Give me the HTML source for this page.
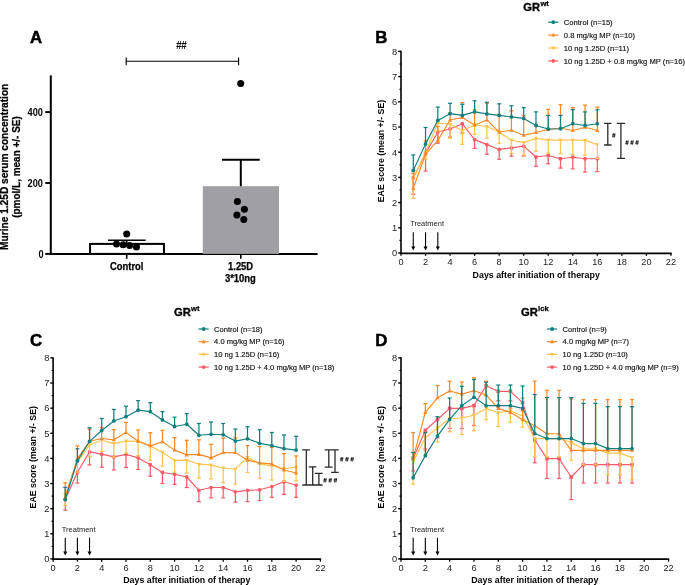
<!DOCTYPE html>
<html><head><meta charset="utf-8"><style>
html,body{margin:0;padding:0;background:#fff;width:685px;height:585px;overflow:hidden}
svg{display:block;will-change:transform}
text{font-family:"Liberation Sans", sans-serif}
</style></head><body>
<svg width="685" height="585" viewBox="0 0 685 585" font-family="'Liberation Sans', sans-serif">
<rect width="685" height="585" fill="#fff"/>
<text x="30.10" y="43.30" font-size="16.8" font-weight="bold" text-anchor="start" fill="#000" stroke="#000" stroke-width="0.5">A</text>
<line x1="50.80" y1="75.40" x2="50.80" y2="254.90" stroke="#000" stroke-width="2" />
<line x1="45.30" y1="253.90" x2="50.80" y2="253.90" stroke="#000" stroke-width="2" />
<text x="43.50" y="257.50" font-size="10.1" font-weight="bold" text-anchor="end" fill="#000" textLength="5.1" lengthAdjust="spacingAndGlyphs">0</text>
<line x1="45.30" y1="183.00" x2="50.80" y2="183.00" stroke="#000" stroke-width="2" />
<text x="42.90" y="186.60" font-size="10.1" font-weight="bold" text-anchor="end" fill="#000" textLength="15.3" lengthAdjust="spacingAndGlyphs">200</text>
<line x1="45.30" y1="112.10" x2="50.80" y2="112.10" stroke="#000" stroke-width="2" />
<text x="42.90" y="115.70" font-size="10.1" font-weight="bold" text-anchor="end" fill="#000" textLength="15.3" lengthAdjust="spacingAndGlyphs">400</text>
<line x1="49.80" y1="253.90" x2="317.60" y2="253.90" stroke="#000" stroke-width="2" />
<line x1="126.70" y1="253.90" x2="126.70" y2="258.80" stroke="#000" stroke-width="1.6" />
<line x1="240.80" y1="253.90" x2="240.80" y2="258.80" stroke="#000" stroke-width="1.6" />
<rect x="202.8" y="186.2" width="76.2" height="67.70" fill="#a09fa4"/>
<line x1="240.80" y1="186.20" x2="240.80" y2="159.70" stroke="#000" stroke-width="2" />
<line x1="222.00" y1="159.70" x2="259.70" y2="159.70" stroke="#000" stroke-width="2" />
<rect x="90.05" y="243.9" width="73.9" height="10.00" fill="#fff" stroke="#000" stroke-width="2"/>
<line x1="126.70" y1="243.00" x2="126.70" y2="240.20" stroke="#000" stroke-width="1.6" />
<line x1="108.00" y1="240.20" x2="145.70" y2="240.20" stroke="#000" stroke-width="1.6" />
<circle cx="126.7" cy="233.9" r="3.5" fill="#000"/>
<circle cx="116.5" cy="244.1" r="3.5" fill="#000"/>
<circle cx="123.1" cy="244.8" r="3.5" fill="#000"/>
<circle cx="129.6" cy="245.5" r="3.5" fill="#000"/>
<circle cx="136.5" cy="247.0" r="3.5" fill="#000"/>
<circle cx="240.7" cy="83.5" r="3.5" fill="#000"/>
<circle cx="237.4" cy="201.5" r="3.5" fill="#000"/>
<circle cx="244.4" cy="209.2" r="3.5" fill="#000"/>
<circle cx="236.9" cy="215.1" r="3.5" fill="#000"/>
<circle cx="243.8" cy="219.5" r="3.5" fill="#000"/>
<line x1="126.20" y1="61.30" x2="238.60" y2="61.30" stroke="#000" stroke-width="1.1" />
<line x1="126.20" y1="57.50" x2="126.20" y2="65.20" stroke="#000" stroke-width="1.1" />
<line x1="238.60" y1="57.50" x2="238.60" y2="65.20" stroke="#000" stroke-width="1.1" />
<text x="181.00" y="48.60" font-size="10.0" font-weight="bold" text-anchor="middle" fill="#000" letter-spacing="-0.6" font-style="italic">##</text>
<text x="126.70" y="270.20" font-size="10.2" font-weight="bold" text-anchor="middle" fill="#000" stroke="#000" stroke-width="0.25" lengthAdjust="spacingAndGlyphs" textLength="33.6">Control</text>
<text x="240.60" y="270.10" font-size="10.2" font-weight="bold" text-anchor="middle" fill="#000" stroke="#000" stroke-width="0.25" lengthAdjust="spacingAndGlyphs" textLength="25.0">1.25D</text>
<text x="240.40" y="281.70" font-size="10.2" font-weight="bold" text-anchor="middle" fill="#000" stroke="#000" stroke-width="0.25" lengthAdjust="spacingAndGlyphs" textLength="30.8">3*10ng</text>
<text transform="translate(8.3,166.8) rotate(-90)" font-size="10.6" font-weight="bold" text-anchor="middle" stroke="#000" stroke-width="0.25" textLength="166.2" lengthAdjust="spacingAndGlyphs">Murine 1.25D serum concentration</text>
<text transform="translate(20.1,167.0) rotate(-90)" font-size="10.5" font-weight="bold" text-anchor="middle" stroke="#000" stroke-width="0.25" textLength="101.6" lengthAdjust="spacingAndGlyphs">(pmol/L, mean +/- SE)</text>
<text x="375.30" y="43.20" font-size="16.8" font-weight="bold" text-anchor="start" fill="#000" stroke="#000" stroke-width="0.5">B</text>
<text x="523.30" y="11.00" font-size="11.2" font-weight="bold" stroke="#000" stroke-width="0.35">GR<tspan font-size="7.6" dy="-4.7" dx="0.3" stroke-width="0.25">wt</tspan></text>
<line x1="548.20" y1="22.20" x2="558.40" y2="22.20" stroke="#0f7f7e" stroke-width="1.2" />
<circle cx="553.30" cy="22.20" r="1.9" fill="#0f7f7e"/>
<text x="563.80" y="24.90" font-size="7.62" font-weight="normal" text-anchor="start" fill="#111" stroke="#111" stroke-width="0.15">Control (n=15)</text>
<line x1="548.20" y1="35.10" x2="558.40" y2="35.10" stroke="#f98a26" stroke-width="1.2" />
<path d="M553.30,32.90 L555.40,36.60 L551.20,36.60 Z" fill="#f98a26"/>
<text x="563.80" y="37.80" font-size="7.62" font-weight="normal" text-anchor="start" fill="#111" stroke="#111" stroke-width="0.15">0.8 mg/kg MP (n=10)</text>
<line x1="548.20" y1="48.00" x2="558.40" y2="48.00" stroke="#fec450" stroke-width="1.2" />
<path d="M553.30,50.20 L555.40,46.50 L551.20,46.50 Z" fill="#fec450"/>
<text x="563.80" y="50.70" font-size="7.62" font-weight="normal" text-anchor="start" fill="#111" stroke="#111" stroke-width="0.15">10 ng 1.25D (n=11)</text>
<line x1="548.20" y1="60.90" x2="558.40" y2="60.90" stroke="#f75d68" stroke-width="1.2" />
<circle cx="553.30" cy="60.90" r="1.9" fill="#f75d68"/>
<text x="563.80" y="63.60" font-size="7.62" font-weight="normal" text-anchor="start" fill="#111" stroke="#111" stroke-width="0.15">10 ng 1.25D + 0.8 mg/kg MP (n=16)</text>
<line x1="401.00" y1="50.80" x2="401.00" y2="254.00" stroke="#000" stroke-width="1.6" />
<line x1="400.00" y1="253.30" x2="671.64" y2="253.30" stroke="#000" stroke-width="1.7" />
<line x1="398.20" y1="253.00" x2="401.00" y2="253.00" stroke="#000" stroke-width="1.4" />
<text x="397.20" y="256.30" font-size="9.3" font-weight="normal" text-anchor="end" fill="#222" >0</text>
<line x1="399.40" y1="240.40" x2="401.00" y2="240.40" stroke="#000" stroke-width="1.1" />
<line x1="398.20" y1="227.80" x2="401.00" y2="227.80" stroke="#000" stroke-width="1.4" />
<text x="397.20" y="231.10" font-size="9.3" font-weight="normal" text-anchor="end" fill="#222" >1</text>
<line x1="399.40" y1="215.20" x2="401.00" y2="215.20" stroke="#000" stroke-width="1.1" />
<line x1="398.20" y1="202.60" x2="401.00" y2="202.60" stroke="#000" stroke-width="1.4" />
<text x="397.20" y="205.90" font-size="9.3" font-weight="normal" text-anchor="end" fill="#222" >2</text>
<line x1="399.40" y1="190.00" x2="401.00" y2="190.00" stroke="#000" stroke-width="1.1" />
<line x1="398.20" y1="177.40" x2="401.00" y2="177.40" stroke="#000" stroke-width="1.4" />
<text x="397.20" y="180.70" font-size="9.3" font-weight="normal" text-anchor="end" fill="#222" >3</text>
<line x1="399.40" y1="164.80" x2="401.00" y2="164.80" stroke="#000" stroke-width="1.1" />
<line x1="398.20" y1="152.20" x2="401.00" y2="152.20" stroke="#000" stroke-width="1.4" />
<text x="397.20" y="155.50" font-size="9.3" font-weight="normal" text-anchor="end" fill="#222" >4</text>
<line x1="399.40" y1="139.60" x2="401.00" y2="139.60" stroke="#000" stroke-width="1.1" />
<line x1="398.20" y1="127.00" x2="401.00" y2="127.00" stroke="#000" stroke-width="1.4" />
<text x="397.20" y="130.30" font-size="9.3" font-weight="normal" text-anchor="end" fill="#222" >5</text>
<line x1="399.40" y1="114.40" x2="401.00" y2="114.40" stroke="#000" stroke-width="1.1" />
<line x1="398.20" y1="101.80" x2="401.00" y2="101.80" stroke="#000" stroke-width="1.4" />
<text x="397.20" y="105.10" font-size="9.3" font-weight="normal" text-anchor="end" fill="#222" >6</text>
<line x1="399.40" y1="89.20" x2="401.00" y2="89.20" stroke="#000" stroke-width="1.1" />
<line x1="398.20" y1="76.60" x2="401.00" y2="76.60" stroke="#000" stroke-width="1.4" />
<text x="397.20" y="79.90" font-size="9.3" font-weight="normal" text-anchor="end" fill="#222" >7</text>
<line x1="399.40" y1="64.00" x2="401.00" y2="64.00" stroke="#000" stroke-width="1.1" />
<line x1="398.20" y1="51.40" x2="401.00" y2="51.40" stroke="#000" stroke-width="1.4" />
<text x="397.20" y="54.70" font-size="9.3" font-weight="normal" text-anchor="end" fill="#222" >8</text>
<line x1="401.00" y1="253.00" x2="401.00" y2="255.80" stroke="#000" stroke-width="1.3" />
<text x="401.00" y="265.30" font-size="9.2" font-weight="normal" text-anchor="middle" fill="#222" >0</text>
<line x1="425.54" y1="253.00" x2="425.54" y2="255.80" stroke="#000" stroke-width="1.3" />
<text x="425.54" y="265.30" font-size="9.2" font-weight="normal" text-anchor="middle" fill="#222" >2</text>
<line x1="450.08" y1="253.00" x2="450.08" y2="255.80" stroke="#000" stroke-width="1.3" />
<text x="450.08" y="265.30" font-size="9.2" font-weight="normal" text-anchor="middle" fill="#222" >4</text>
<line x1="474.62" y1="253.00" x2="474.62" y2="255.80" stroke="#000" stroke-width="1.3" />
<text x="474.62" y="265.30" font-size="9.2" font-weight="normal" text-anchor="middle" fill="#222" >6</text>
<line x1="499.16" y1="253.00" x2="499.16" y2="255.80" stroke="#000" stroke-width="1.3" />
<text x="499.16" y="265.30" font-size="9.2" font-weight="normal" text-anchor="middle" fill="#222" >8</text>
<line x1="523.70" y1="253.00" x2="523.70" y2="255.80" stroke="#000" stroke-width="1.3" />
<text x="523.70" y="265.30" font-size="9.2" font-weight="normal" text-anchor="middle" fill="#222" >10</text>
<line x1="548.24" y1="253.00" x2="548.24" y2="255.80" stroke="#000" stroke-width="1.3" />
<text x="548.24" y="265.30" font-size="9.2" font-weight="normal" text-anchor="middle" fill="#222" >12</text>
<line x1="572.78" y1="253.00" x2="572.78" y2="255.80" stroke="#000" stroke-width="1.3" />
<text x="572.78" y="265.30" font-size="9.2" font-weight="normal" text-anchor="middle" fill="#222" >14</text>
<line x1="597.32" y1="253.00" x2="597.32" y2="255.80" stroke="#000" stroke-width="1.3" />
<text x="597.32" y="265.30" font-size="9.2" font-weight="normal" text-anchor="middle" fill="#222" >16</text>
<line x1="621.86" y1="253.00" x2="621.86" y2="255.80" stroke="#000" stroke-width="1.3" />
<text x="621.86" y="265.30" font-size="9.2" font-weight="normal" text-anchor="middle" fill="#222" >18</text>
<line x1="646.40" y1="253.00" x2="646.40" y2="255.80" stroke="#000" stroke-width="1.3" />
<text x="646.40" y="265.30" font-size="9.2" font-weight="normal" text-anchor="middle" fill="#222" >20</text>
<line x1="670.94" y1="253.00" x2="670.94" y2="255.80" stroke="#000" stroke-width="1.3" />
<text x="670.94" y="265.30" font-size="9.2" font-weight="normal" text-anchor="middle" fill="#222" >22</text>
<text transform="translate(384.00,151.00) rotate(-90)" font-size="9.4" font-weight="bold" text-anchor="middle" textLength="102.5" lengthAdjust="spacingAndGlyphs">EAE score (mean +/- SE)</text>
<text x="536.20" y="278.40" font-size="9.4" font-weight="bold" text-anchor="middle" fill="#000" textLength="127.2" lengthAdjust="spacingAndGlyphs">Days after initiation of therapy</text>
<text x="410.20" y="226.20" font-size="8.0" font-weight="normal" text-anchor="start" fill="#1a1a1a" textLength="33.8" lengthAdjust="spacingAndGlyphs">Treatment</text>
<line x1="413.27" y1="232.30" x2="413.27" y2="247.50" stroke="#000" stroke-width="1.1" />
<path d="M411.27,246.50 L415.27,246.50 L413.27,250.50 Z" fill="#000"/>
<line x1="425.54" y1="232.30" x2="425.54" y2="247.50" stroke="#000" stroke-width="1.1" />
<path d="M423.54,246.50 L427.54,246.50 L425.54,250.50 Z" fill="#000"/>
<line x1="437.81" y1="232.30" x2="437.81" y2="247.50" stroke="#000" stroke-width="1.1" />
<path d="M435.81,246.50 L439.81,246.50 L437.81,250.50 Z" fill="#000"/>
<line x1="413.27" y1="177.90" x2="413.27" y2="194.28" stroke="#f75d68" stroke-width="1.25" />
<line x1="411.27" y1="194.28" x2="415.27" y2="194.28" stroke="#f75d68" stroke-width="1.25" />
<line x1="425.54" y1="153.21" x2="425.54" y2="171.10" stroke="#f75d68" stroke-width="1.25" />
<line x1="423.54" y1="171.10" x2="427.54" y2="171.10" stroke="#f75d68" stroke-width="1.25" />
<line x1="437.81" y1="132.04" x2="437.81" y2="143.13" stroke="#f75d68" stroke-width="1.25" />
<line x1="435.81" y1="143.13" x2="439.81" y2="143.13" stroke="#f75d68" stroke-width="1.25" />
<line x1="450.08" y1="129.02" x2="450.08" y2="137.08" stroke="#f75d68" stroke-width="1.25" />
<line x1="448.08" y1="137.08" x2="452.08" y2="137.08" stroke="#f75d68" stroke-width="1.25" />
<line x1="462.35" y1="123.72" x2="462.35" y2="133.05" stroke="#f75d68" stroke-width="1.25" />
<line x1="460.35" y1="133.05" x2="464.35" y2="133.05" stroke="#f75d68" stroke-width="1.25" />
<line x1="474.62" y1="139.60" x2="474.62" y2="148.42" stroke="#f75d68" stroke-width="1.25" />
<line x1="472.62" y1="148.42" x2="476.62" y2="148.42" stroke="#f75d68" stroke-width="1.25" />
<line x1="486.89" y1="144.64" x2="486.89" y2="154.22" stroke="#f75d68" stroke-width="1.25" />
<line x1="484.89" y1="154.22" x2="488.89" y2="154.22" stroke="#f75d68" stroke-width="1.25" />
<line x1="499.16" y1="149.43" x2="499.16" y2="159.26" stroke="#f75d68" stroke-width="1.25" />
<line x1="497.16" y1="159.26" x2="501.16" y2="159.26" stroke="#f75d68" stroke-width="1.25" />
<line x1="511.43" y1="147.92" x2="511.43" y2="156.23" stroke="#f75d68" stroke-width="1.25" />
<line x1="509.43" y1="156.23" x2="513.43" y2="156.23" stroke="#f75d68" stroke-width="1.25" />
<line x1="523.70" y1="146.15" x2="523.70" y2="155.98" stroke="#f75d68" stroke-width="1.25" />
<line x1="521.70" y1="155.98" x2="525.70" y2="155.98" stroke="#f75d68" stroke-width="1.25" />
<line x1="535.97" y1="156.99" x2="535.97" y2="166.31" stroke="#f75d68" stroke-width="1.25" />
<line x1="533.97" y1="166.31" x2="537.97" y2="166.31" stroke="#f75d68" stroke-width="1.25" />
<line x1="548.24" y1="155.48" x2="548.24" y2="163.79" stroke="#f75d68" stroke-width="1.25" />
<line x1="546.24" y1="163.79" x2="550.24" y2="163.79" stroke="#f75d68" stroke-width="1.25" />
<line x1="560.51" y1="158.75" x2="560.51" y2="168.08" stroke="#f75d68" stroke-width="1.25" />
<line x1="558.51" y1="168.08" x2="562.51" y2="168.08" stroke="#f75d68" stroke-width="1.25" />
<line x1="572.78" y1="157.24" x2="572.78" y2="168.83" stroke="#f75d68" stroke-width="1.25" />
<line x1="570.78" y1="168.83" x2="574.78" y2="168.83" stroke="#f75d68" stroke-width="1.25" />
<line x1="585.05" y1="158.75" x2="585.05" y2="172.11" stroke="#f75d68" stroke-width="1.25" />
<line x1="583.05" y1="172.11" x2="587.05" y2="172.11" stroke="#f75d68" stroke-width="1.25" />
<line x1="597.32" y1="158.75" x2="597.32" y2="171.60" stroke="#f75d68" stroke-width="1.25" />
<line x1="595.32" y1="171.60" x2="599.32" y2="171.60" stroke="#f75d68" stroke-width="1.25" />
<path d="M413.27,177.90 L425.54,153.21 L437.81,132.04 L450.08,129.02 L462.35,123.72 L474.62,139.60 L486.89,144.64 L499.16,149.43 L511.43,147.92 L523.70,146.15 L535.97,156.99 L548.24,155.48 L560.51,158.75 L572.78,157.24 L585.05,158.75 L597.32,158.75" fill="none" stroke="#f75d68" stroke-width="1.15" stroke-linejoin="round"/>
<circle cx="413.27" cy="177.90" r="1.9" fill="#f75d68"/>
<circle cx="425.54" cy="153.21" r="1.9" fill="#f75d68"/>
<circle cx="437.81" cy="132.04" r="1.9" fill="#f75d68"/>
<circle cx="450.08" cy="129.02" r="1.9" fill="#f75d68"/>
<circle cx="462.35" cy="123.72" r="1.9" fill="#f75d68"/>
<circle cx="474.62" cy="139.60" r="1.9" fill="#f75d68"/>
<circle cx="486.89" cy="144.64" r="1.9" fill="#f75d68"/>
<circle cx="499.16" cy="149.43" r="1.9" fill="#f75d68"/>
<circle cx="511.43" cy="147.92" r="1.9" fill="#f75d68"/>
<circle cx="523.70" cy="146.15" r="1.9" fill="#f75d68"/>
<circle cx="535.97" cy="156.99" r="1.9" fill="#f75d68"/>
<circle cx="548.24" cy="155.48" r="1.9" fill="#f75d68"/>
<circle cx="560.51" cy="158.75" r="1.9" fill="#f75d68"/>
<circle cx="572.78" cy="157.24" r="1.9" fill="#f75d68"/>
<circle cx="585.05" cy="158.75" r="1.9" fill="#f75d68"/>
<circle cx="597.32" cy="158.75" r="1.9" fill="#f75d68"/>
<line x1="413.27" y1="178.66" x2="413.27" y2="198.32" stroke="#fec450" stroke-width="1.25" />
<line x1="411.27" y1="198.32" x2="415.27" y2="198.32" stroke="#fec450" stroke-width="1.25" />
<line x1="425.54" y1="152.20" x2="425.54" y2="159.00" stroke="#fec450" stroke-width="1.25" />
<line x1="423.54" y1="159.00" x2="427.54" y2="159.00" stroke="#fec450" stroke-width="1.25" />
<line x1="437.81" y1="122.97" x2="437.81" y2="131.03" stroke="#fec450" stroke-width="1.25" />
<line x1="435.81" y1="131.03" x2="439.81" y2="131.03" stroke="#fec450" stroke-width="1.25" />
<line x1="450.08" y1="124.23" x2="450.08" y2="138.34" stroke="#fec450" stroke-width="1.25" />
<line x1="448.08" y1="138.34" x2="452.08" y2="138.34" stroke="#fec450" stroke-width="1.25" />
<line x1="462.35" y1="130.78" x2="462.35" y2="144.39" stroke="#fec450" stroke-width="1.25" />
<line x1="460.35" y1="144.39" x2="464.35" y2="144.39" stroke="#fec450" stroke-width="1.25" />
<line x1="474.62" y1="124.98" x2="474.62" y2="134.31" stroke="#fec450" stroke-width="1.25" />
<line x1="472.62" y1="134.31" x2="476.62" y2="134.31" stroke="#fec450" stroke-width="1.25" />
<line x1="486.89" y1="126.50" x2="486.89" y2="138.09" stroke="#fec450" stroke-width="1.25" />
<line x1="484.89" y1="138.09" x2="488.89" y2="138.09" stroke="#fec450" stroke-width="1.25" />
<line x1="499.16" y1="132.04" x2="499.16" y2="143.38" stroke="#fec450" stroke-width="1.25" />
<line x1="497.16" y1="143.38" x2="501.16" y2="143.38" stroke="#fec450" stroke-width="1.25" />
<line x1="511.43" y1="140.36" x2="511.43" y2="153.21" stroke="#fec450" stroke-width="1.25" />
<line x1="509.43" y1="153.21" x2="513.43" y2="153.21" stroke="#fec450" stroke-width="1.25" />
<line x1="523.70" y1="142.62" x2="523.70" y2="154.97" stroke="#fec450" stroke-width="1.25" />
<line x1="521.70" y1="154.97" x2="525.70" y2="154.97" stroke="#fec450" stroke-width="1.25" />
<line x1="535.97" y1="138.34" x2="535.97" y2="151.19" stroke="#fec450" stroke-width="1.25" />
<line x1="533.97" y1="151.19" x2="537.97" y2="151.19" stroke="#fec450" stroke-width="1.25" />
<line x1="548.24" y1="140.10" x2="548.24" y2="153.21" stroke="#fec450" stroke-width="1.25" />
<line x1="546.24" y1="153.21" x2="550.24" y2="153.21" stroke="#fec450" stroke-width="1.25" />
<line x1="560.51" y1="140.10" x2="560.51" y2="153.71" stroke="#fec450" stroke-width="1.25" />
<line x1="558.51" y1="153.71" x2="562.51" y2="153.71" stroke="#fec450" stroke-width="1.25" />
<line x1="572.78" y1="140.10" x2="572.78" y2="154.72" stroke="#fec450" stroke-width="1.25" />
<line x1="570.78" y1="154.72" x2="574.78" y2="154.72" stroke="#fec450" stroke-width="1.25" />
<line x1="585.05" y1="140.36" x2="585.05" y2="155.22" stroke="#fec450" stroke-width="1.25" />
<line x1="583.05" y1="155.22" x2="587.05" y2="155.22" stroke="#fec450" stroke-width="1.25" />
<line x1="597.32" y1="144.64" x2="597.32" y2="158.50" stroke="#fec450" stroke-width="1.25" />
<line x1="595.32" y1="158.50" x2="599.32" y2="158.50" stroke="#fec450" stroke-width="1.25" />
<path d="M413.27,178.66 L425.54,152.20 L437.81,122.97 L450.08,124.23 L462.35,130.78 L474.62,124.98 L486.89,126.50 L499.16,132.04 L511.43,140.36 L523.70,142.62 L535.97,138.34 L548.24,140.10 L560.51,140.10 L572.78,140.10 L585.05,140.36 L597.32,144.64" fill="none" stroke="#fec450" stroke-width="1.15" stroke-linejoin="round"/>
<path d="M413.27,180.86 L415.37,177.16 L411.17,177.16 Z" fill="#fec450"/>
<path d="M425.54,154.40 L427.64,150.70 L423.44,150.70 Z" fill="#fec450"/>
<path d="M437.81,125.17 L439.91,121.47 L435.71,121.47 Z" fill="#fec450"/>
<path d="M450.08,126.43 L452.18,122.73 L447.98,122.73 Z" fill="#fec450"/>
<path d="M462.35,132.98 L464.45,129.28 L460.25,129.28 Z" fill="#fec450"/>
<path d="M474.62,127.18 L476.72,123.48 L472.52,123.48 Z" fill="#fec450"/>
<path d="M486.89,128.70 L488.99,125.00 L484.79,125.00 Z" fill="#fec450"/>
<path d="M499.16,134.24 L501.26,130.54 L497.06,130.54 Z" fill="#fec450"/>
<path d="M511.43,142.56 L513.53,138.86 L509.33,138.86 Z" fill="#fec450"/>
<path d="M523.70,144.82 L525.80,141.12 L521.60,141.12 Z" fill="#fec450"/>
<path d="M535.97,140.54 L538.07,136.84 L533.87,136.84 Z" fill="#fec450"/>
<path d="M548.24,142.30 L550.34,138.60 L546.14,138.60 Z" fill="#fec450"/>
<path d="M560.51,142.30 L562.61,138.60 L558.41,138.60 Z" fill="#fec450"/>
<path d="M572.78,142.30 L574.88,138.60 L570.68,138.60 Z" fill="#fec450"/>
<path d="M585.05,142.56 L587.15,138.86 L582.95,138.86 Z" fill="#fec450"/>
<path d="M597.32,146.84 L599.42,143.14 L595.22,143.14 Z" fill="#fec450"/>
<line x1="413.27" y1="188.24" x2="413.27" y2="173.37" stroke="#f98a26" stroke-width="1.25" />
<line x1="411.27" y1="173.37" x2="415.27" y2="173.37" stroke="#f98a26" stroke-width="1.25" />
<line x1="425.54" y1="154.22" x2="425.54" y2="141.11" stroke="#f98a26" stroke-width="1.25" />
<line x1="423.54" y1="141.11" x2="427.54" y2="141.11" stroke="#f98a26" stroke-width="1.25" />
<line x1="437.81" y1="140.61" x2="437.81" y2="126.50" stroke="#f98a26" stroke-width="1.25" />
<line x1="435.81" y1="126.50" x2="439.81" y2="126.50" stroke="#f98a26" stroke-width="1.25" />
<line x1="450.08" y1="119.94" x2="450.08" y2="113.14" stroke="#f98a26" stroke-width="1.25" />
<line x1="448.08" y1="113.14" x2="452.08" y2="113.14" stroke="#f98a26" stroke-width="1.25" />
<line x1="462.35" y1="117.42" x2="462.35" y2="102.56" stroke="#f98a26" stroke-width="1.25" />
<line x1="460.35" y1="102.56" x2="464.35" y2="102.56" stroke="#f98a26" stroke-width="1.25" />
<line x1="474.62" y1="124.98" x2="474.62" y2="109.86" stroke="#f98a26" stroke-width="1.25" />
<line x1="472.62" y1="109.86" x2="476.62" y2="109.86" stroke="#f98a26" stroke-width="1.25" />
<line x1="486.89" y1="119.94" x2="486.89" y2="103.06" stroke="#f98a26" stroke-width="1.25" />
<line x1="484.89" y1="103.06" x2="488.89" y2="103.06" stroke="#f98a26" stroke-width="1.25" />
<line x1="499.16" y1="132.04" x2="499.16" y2="114.40" stroke="#f98a26" stroke-width="1.25" />
<line x1="497.16" y1="114.40" x2="501.16" y2="114.40" stroke="#f98a26" stroke-width="1.25" />
<line x1="511.43" y1="130.28" x2="511.43" y2="110.87" stroke="#f98a26" stroke-width="1.25" />
<line x1="509.43" y1="110.87" x2="513.43" y2="110.87" stroke="#f98a26" stroke-width="1.25" />
<line x1="523.70" y1="135.32" x2="523.70" y2="115.66" stroke="#f98a26" stroke-width="1.25" />
<line x1="521.70" y1="115.66" x2="525.70" y2="115.66" stroke="#f98a26" stroke-width="1.25" />
<line x1="535.97" y1="132.54" x2="535.97" y2="124.48" stroke="#f98a26" stroke-width="1.25" />
<line x1="533.97" y1="124.48" x2="537.97" y2="124.48" stroke="#f98a26" stroke-width="1.25" />
<line x1="548.24" y1="129.52" x2="548.24" y2="109.36" stroke="#f98a26" stroke-width="1.25" />
<line x1="546.24" y1="109.36" x2="550.24" y2="109.36" stroke="#f98a26" stroke-width="1.25" />
<line x1="560.51" y1="128.01" x2="560.51" y2="104.57" stroke="#f98a26" stroke-width="1.25" />
<line x1="558.51" y1="104.57" x2="562.51" y2="104.57" stroke="#f98a26" stroke-width="1.25" />
<line x1="572.78" y1="130.53" x2="572.78" y2="107.60" stroke="#f98a26" stroke-width="1.25" />
<line x1="570.78" y1="107.60" x2="574.78" y2="107.60" stroke="#f98a26" stroke-width="1.25" />
<line x1="585.05" y1="127.25" x2="585.05" y2="105.08" stroke="#f98a26" stroke-width="1.25" />
<line x1="583.05" y1="105.08" x2="587.05" y2="105.08" stroke="#f98a26" stroke-width="1.25" />
<line x1="597.32" y1="130.53" x2="597.32" y2="107.09" stroke="#f98a26" stroke-width="1.25" />
<line x1="595.32" y1="107.09" x2="599.32" y2="107.09" stroke="#f98a26" stroke-width="1.25" />
<path d="M413.27,188.24 L425.54,154.22 L437.81,140.61 L450.08,119.94 L462.35,117.42 L474.62,124.98 L486.89,119.94 L499.16,132.04 L511.43,130.28 L523.70,135.32 L535.97,132.54 L548.24,129.52 L560.51,128.01 L572.78,130.53 L585.05,127.25 L597.32,130.53" fill="none" stroke="#f98a26" stroke-width="1.15" stroke-linejoin="round"/>
<path d="M413.27,186.04 L415.37,189.74 L411.17,189.74 Z" fill="#f98a26"/>
<path d="M425.54,152.02 L427.64,155.72 L423.44,155.72 Z" fill="#f98a26"/>
<path d="M437.81,138.41 L439.91,142.11 L435.71,142.11 Z" fill="#f98a26"/>
<path d="M450.08,117.74 L452.18,121.44 L447.98,121.44 Z" fill="#f98a26"/>
<path d="M462.35,115.22 L464.45,118.92 L460.25,118.92 Z" fill="#f98a26"/>
<path d="M474.62,122.78 L476.72,126.48 L472.52,126.48 Z" fill="#f98a26"/>
<path d="M486.89,117.74 L488.99,121.44 L484.79,121.44 Z" fill="#f98a26"/>
<path d="M499.16,129.84 L501.26,133.54 L497.06,133.54 Z" fill="#f98a26"/>
<path d="M511.43,128.08 L513.53,131.78 L509.33,131.78 Z" fill="#f98a26"/>
<path d="M523.70,133.12 L525.80,136.82 L521.60,136.82 Z" fill="#f98a26"/>
<path d="M535.97,130.34 L538.07,134.04 L533.87,134.04 Z" fill="#f98a26"/>
<path d="M548.24,127.32 L550.34,131.02 L546.14,131.02 Z" fill="#f98a26"/>
<path d="M560.51,125.81 L562.61,129.51 L558.41,129.51 Z" fill="#f98a26"/>
<path d="M572.78,128.33 L574.88,132.03 L570.68,132.03 Z" fill="#f98a26"/>
<path d="M585.05,125.05 L587.15,128.75 L582.95,128.75 Z" fill="#f98a26"/>
<path d="M597.32,128.33 L599.42,132.03 L595.22,132.03 Z" fill="#f98a26"/>
<line x1="413.27" y1="170.60" x2="413.27" y2="154.97" stroke="#0f7f7e" stroke-width="1.25" />
<line x1="411.27" y1="154.97" x2="415.27" y2="154.97" stroke="#0f7f7e" stroke-width="1.25" />
<line x1="425.54" y1="143.88" x2="425.54" y2="127.50" stroke="#0f7f7e" stroke-width="1.25" />
<line x1="423.54" y1="127.50" x2="427.54" y2="127.50" stroke="#0f7f7e" stroke-width="1.25" />
<line x1="437.81" y1="120.45" x2="437.81" y2="107.09" stroke="#0f7f7e" stroke-width="1.25" />
<line x1="435.81" y1="107.09" x2="439.81" y2="107.09" stroke="#0f7f7e" stroke-width="1.25" />
<line x1="450.08" y1="113.64" x2="450.08" y2="103.31" stroke="#0f7f7e" stroke-width="1.25" />
<line x1="448.08" y1="103.31" x2="452.08" y2="103.31" stroke="#0f7f7e" stroke-width="1.25" />
<line x1="462.35" y1="115.41" x2="462.35" y2="104.32" stroke="#0f7f7e" stroke-width="1.25" />
<line x1="460.35" y1="104.32" x2="464.35" y2="104.32" stroke="#0f7f7e" stroke-width="1.25" />
<line x1="474.62" y1="111.88" x2="474.62" y2="100.79" stroke="#0f7f7e" stroke-width="1.25" />
<line x1="472.62" y1="100.79" x2="476.62" y2="100.79" stroke="#0f7f7e" stroke-width="1.25" />
<line x1="486.89" y1="113.90" x2="486.89" y2="102.30" stroke="#0f7f7e" stroke-width="1.25" />
<line x1="484.89" y1="102.30" x2="488.89" y2="102.30" stroke="#0f7f7e" stroke-width="1.25" />
<line x1="499.16" y1="115.41" x2="499.16" y2="103.82" stroke="#0f7f7e" stroke-width="1.25" />
<line x1="497.16" y1="103.82" x2="501.16" y2="103.82" stroke="#0f7f7e" stroke-width="1.25" />
<line x1="511.43" y1="116.92" x2="511.43" y2="105.83" stroke="#0f7f7e" stroke-width="1.25" />
<line x1="509.43" y1="105.83" x2="513.43" y2="105.83" stroke="#0f7f7e" stroke-width="1.25" />
<line x1="523.70" y1="118.43" x2="523.70" y2="107.60" stroke="#0f7f7e" stroke-width="1.25" />
<line x1="521.70" y1="107.60" x2="525.70" y2="107.60" stroke="#0f7f7e" stroke-width="1.25" />
<line x1="535.97" y1="125.49" x2="535.97" y2="111.88" stroke="#0f7f7e" stroke-width="1.25" />
<line x1="533.97" y1="111.88" x2="537.97" y2="111.88" stroke="#0f7f7e" stroke-width="1.25" />
<line x1="548.24" y1="129.02" x2="548.24" y2="115.41" stroke="#0f7f7e" stroke-width="1.25" />
<line x1="546.24" y1="115.41" x2="550.24" y2="115.41" stroke="#0f7f7e" stroke-width="1.25" />
<line x1="560.51" y1="128.76" x2="560.51" y2="115.41" stroke="#0f7f7e" stroke-width="1.25" />
<line x1="558.51" y1="115.41" x2="562.51" y2="115.41" stroke="#0f7f7e" stroke-width="1.25" />
<line x1="572.78" y1="123.72" x2="572.78" y2="109.61" stroke="#0f7f7e" stroke-width="1.25" />
<line x1="570.78" y1="109.61" x2="574.78" y2="109.61" stroke="#0f7f7e" stroke-width="1.25" />
<line x1="585.05" y1="125.49" x2="585.05" y2="111.88" stroke="#0f7f7e" stroke-width="1.25" />
<line x1="583.05" y1="111.88" x2="587.05" y2="111.88" stroke="#0f7f7e" stroke-width="1.25" />
<line x1="597.32" y1="123.72" x2="597.32" y2="109.86" stroke="#0f7f7e" stroke-width="1.25" />
<line x1="595.32" y1="109.86" x2="599.32" y2="109.86" stroke="#0f7f7e" stroke-width="1.25" />
<path d="M413.27,170.60 L425.54,143.88 L437.81,120.45 L450.08,113.64 L462.35,115.41 L474.62,111.88 L486.89,113.90 L499.16,115.41 L511.43,116.92 L523.70,118.43 L535.97,125.49 L548.24,129.02 L560.51,128.76 L572.78,123.72 L585.05,125.49 L597.32,123.72" fill="none" stroke="#0f7f7e" stroke-width="1.15" stroke-linejoin="round"/>
<circle cx="413.27" cy="170.60" r="1.9" fill="#0f7f7e"/>
<circle cx="425.54" cy="143.88" r="1.9" fill="#0f7f7e"/>
<circle cx="437.81" cy="120.45" r="1.9" fill="#0f7f7e"/>
<circle cx="450.08" cy="113.64" r="1.9" fill="#0f7f7e"/>
<circle cx="462.35" cy="115.41" r="1.9" fill="#0f7f7e"/>
<circle cx="474.62" cy="111.88" r="1.9" fill="#0f7f7e"/>
<circle cx="486.89" cy="113.90" r="1.9" fill="#0f7f7e"/>
<circle cx="499.16" cy="115.41" r="1.9" fill="#0f7f7e"/>
<circle cx="511.43" cy="116.92" r="1.9" fill="#0f7f7e"/>
<circle cx="523.70" cy="118.43" r="1.9" fill="#0f7f7e"/>
<circle cx="535.97" cy="125.49" r="1.9" fill="#0f7f7e"/>
<circle cx="548.24" cy="129.02" r="1.9" fill="#0f7f7e"/>
<circle cx="560.51" cy="128.76" r="1.9" fill="#0f7f7e"/>
<circle cx="572.78" cy="123.72" r="1.9" fill="#0f7f7e"/>
<circle cx="585.05" cy="125.49" r="1.9" fill="#0f7f7e"/>
<circle cx="597.32" cy="123.72" r="1.9" fill="#0f7f7e"/>
<path d="M604.1,123.3 H611.5 M607.8,123.3 V145 M604.1,145 H611.5" stroke="#2a2a2a" stroke-width="1.3" fill="none"/>
<path d="M616.9,123.3 H625 M620.9,123.3 V158.4 M616.9,158.4 H625" stroke="#2a2a2a" stroke-width="1.3" fill="none"/>
<path d="M613.50,133.20 L612.90,137.60 M614.90,133.20 L614.30,137.60 M612.30,134.65 L615.40,134.65 M612.00,136.15 L615.20,136.15 " stroke="#1a1a1a" stroke-width="0.8" fill="none"/>
<path d="M626.70,140.30 L626.10,144.70 M628.10,140.30 L627.50,144.70 M625.50,141.75 L628.60,141.75 M625.20,143.25 L628.40,143.25 M631.70,140.30 L631.10,144.70 M633.10,140.30 L632.50,144.70 M630.50,141.75 L633.60,141.75 M630.20,143.25 L633.40,143.25 M636.70,140.30 L636.10,144.70 M638.10,140.30 L637.50,144.70 M635.50,141.75 L638.60,141.75 M635.20,143.25 L638.40,143.25 " stroke="#1a1a1a" stroke-width="0.8" fill="none"/>
<text x="30.10" y="345.50" font-size="16.8" font-weight="bold" text-anchor="start" fill="#000" stroke="#000" stroke-width="0.5">C</text>
<text x="174.00" y="316.00" font-size="11.2" font-weight="bold" stroke="#000" stroke-width="0.35">GR<tspan font-size="7.6" dy="-4.7" dx="0.3" stroke-width="0.25">wt</tspan></text>
<line x1="198.50" y1="329.00" x2="208.70" y2="329.00" stroke="#0f7f7e" stroke-width="1.2" />
<circle cx="203.60" cy="329.00" r="1.9" fill="#0f7f7e"/>
<text x="214.10" y="331.70" font-size="7.56" font-weight="normal" text-anchor="start" fill="#111" stroke="#111" stroke-width="0.15">Control (n=18)</text>
<line x1="198.50" y1="341.70" x2="208.70" y2="341.70" stroke="#f98a26" stroke-width="1.2" />
<path d="M203.60,339.50 L205.70,343.20 L201.50,343.20 Z" fill="#f98a26"/>
<text x="214.10" y="344.40" font-size="7.56" font-weight="normal" text-anchor="start" fill="#111" stroke="#111" stroke-width="0.15">4.0 mg/kg MP (n=16)</text>
<line x1="198.50" y1="354.40" x2="208.70" y2="354.40" stroke="#fec450" stroke-width="1.2" />
<path d="M203.60,356.60 L205.70,352.90 L201.50,352.90 Z" fill="#fec450"/>
<text x="214.10" y="357.10" font-size="7.56" font-weight="normal" text-anchor="start" fill="#111" stroke="#111" stroke-width="0.15">10 ng 1.25D (n=16)</text>
<line x1="198.50" y1="367.10" x2="208.70" y2="367.10" stroke="#f75d68" stroke-width="1.2" />
<circle cx="203.60" cy="367.10" r="1.9" fill="#f75d68"/>
<text x="214.10" y="369.80" font-size="7.56" font-weight="normal" text-anchor="start" fill="#111" stroke="#111" stroke-width="0.15">10 ng 1.25D + 4.0 mg/kg MP (n=18)</text>
<line x1="53.10" y1="357.30" x2="53.10" y2="559.90" stroke="#000" stroke-width="1.6" />
<line x1="52.10" y1="559.20" x2="321.10" y2="559.20" stroke="#000" stroke-width="1.7" />
<line x1="50.30" y1="558.90" x2="53.10" y2="558.90" stroke="#000" stroke-width="1.4" />
<text x="49.30" y="562.20" font-size="9.3" font-weight="normal" text-anchor="end" fill="#222" >0</text>
<line x1="51.50" y1="546.34" x2="53.10" y2="546.34" stroke="#000" stroke-width="1.1" />
<line x1="50.30" y1="533.77" x2="53.10" y2="533.77" stroke="#000" stroke-width="1.4" />
<text x="49.30" y="537.07" font-size="9.3" font-weight="normal" text-anchor="end" fill="#222" >1</text>
<line x1="51.50" y1="521.21" x2="53.10" y2="521.21" stroke="#000" stroke-width="1.1" />
<line x1="50.30" y1="508.65" x2="53.10" y2="508.65" stroke="#000" stroke-width="1.4" />
<text x="49.30" y="511.95" font-size="9.3" font-weight="normal" text-anchor="end" fill="#222" >2</text>
<line x1="51.50" y1="496.09" x2="53.10" y2="496.09" stroke="#000" stroke-width="1.1" />
<line x1="50.30" y1="483.52" x2="53.10" y2="483.52" stroke="#000" stroke-width="1.4" />
<text x="49.30" y="486.82" font-size="9.3" font-weight="normal" text-anchor="end" fill="#222" >3</text>
<line x1="51.50" y1="470.96" x2="53.10" y2="470.96" stroke="#000" stroke-width="1.1" />
<line x1="50.30" y1="458.40" x2="53.10" y2="458.40" stroke="#000" stroke-width="1.4" />
<text x="49.30" y="461.70" font-size="9.3" font-weight="normal" text-anchor="end" fill="#222" >4</text>
<line x1="51.50" y1="445.84" x2="53.10" y2="445.84" stroke="#000" stroke-width="1.1" />
<line x1="50.30" y1="433.27" x2="53.10" y2="433.27" stroke="#000" stroke-width="1.4" />
<text x="49.30" y="436.57" font-size="9.3" font-weight="normal" text-anchor="end" fill="#222" >5</text>
<line x1="51.50" y1="420.71" x2="53.10" y2="420.71" stroke="#000" stroke-width="1.1" />
<line x1="50.30" y1="408.15" x2="53.10" y2="408.15" stroke="#000" stroke-width="1.4" />
<text x="49.30" y="411.45" font-size="9.3" font-weight="normal" text-anchor="end" fill="#222" >6</text>
<line x1="51.50" y1="395.59" x2="53.10" y2="395.59" stroke="#000" stroke-width="1.1" />
<line x1="50.30" y1="383.02" x2="53.10" y2="383.02" stroke="#000" stroke-width="1.4" />
<text x="49.30" y="386.32" font-size="9.3" font-weight="normal" text-anchor="end" fill="#222" >7</text>
<line x1="51.50" y1="370.46" x2="53.10" y2="370.46" stroke="#000" stroke-width="1.1" />
<line x1="50.30" y1="357.90" x2="53.10" y2="357.90" stroke="#000" stroke-width="1.4" />
<text x="49.30" y="361.20" font-size="9.3" font-weight="normal" text-anchor="end" fill="#222" >8</text>
<line x1="53.10" y1="558.90" x2="53.10" y2="561.70" stroke="#000" stroke-width="1.3" />
<text x="53.10" y="571.20" font-size="9.2" font-weight="normal" text-anchor="middle" fill="#222" >0</text>
<line x1="77.40" y1="558.90" x2="77.40" y2="561.70" stroke="#000" stroke-width="1.3" />
<text x="77.40" y="571.20" font-size="9.2" font-weight="normal" text-anchor="middle" fill="#222" >2</text>
<line x1="101.70" y1="558.90" x2="101.70" y2="561.70" stroke="#000" stroke-width="1.3" />
<text x="101.70" y="571.20" font-size="9.2" font-weight="normal" text-anchor="middle" fill="#222" >4</text>
<line x1="126.00" y1="558.90" x2="126.00" y2="561.70" stroke="#000" stroke-width="1.3" />
<text x="126.00" y="571.20" font-size="9.2" font-weight="normal" text-anchor="middle" fill="#222" >6</text>
<line x1="150.30" y1="558.90" x2="150.30" y2="561.70" stroke="#000" stroke-width="1.3" />
<text x="150.30" y="571.20" font-size="9.2" font-weight="normal" text-anchor="middle" fill="#222" >8</text>
<line x1="174.60" y1="558.90" x2="174.60" y2="561.70" stroke="#000" stroke-width="1.3" />
<text x="174.60" y="571.20" font-size="9.2" font-weight="normal" text-anchor="middle" fill="#222" >10</text>
<line x1="198.90" y1="558.90" x2="198.90" y2="561.70" stroke="#000" stroke-width="1.3" />
<text x="198.90" y="571.20" font-size="9.2" font-weight="normal" text-anchor="middle" fill="#222" >12</text>
<line x1="223.20" y1="558.90" x2="223.20" y2="561.70" stroke="#000" stroke-width="1.3" />
<text x="223.20" y="571.20" font-size="9.2" font-weight="normal" text-anchor="middle" fill="#222" >14</text>
<line x1="247.50" y1="558.90" x2="247.50" y2="561.70" stroke="#000" stroke-width="1.3" />
<text x="247.50" y="571.20" font-size="9.2" font-weight="normal" text-anchor="middle" fill="#222" >16</text>
<line x1="271.80" y1="558.90" x2="271.80" y2="561.70" stroke="#000" stroke-width="1.3" />
<text x="271.80" y="571.20" font-size="9.2" font-weight="normal" text-anchor="middle" fill="#222" >18</text>
<line x1="296.10" y1="558.90" x2="296.10" y2="561.70" stroke="#000" stroke-width="1.3" />
<text x="296.10" y="571.20" font-size="9.2" font-weight="normal" text-anchor="middle" fill="#222" >20</text>
<line x1="320.40" y1="558.90" x2="320.40" y2="561.70" stroke="#000" stroke-width="1.3" />
<text x="320.40" y="571.20" font-size="9.2" font-weight="normal" text-anchor="middle" fill="#222" >22</text>
<text transform="translate(36.00,457.20) rotate(-90)" font-size="9.4" font-weight="bold" text-anchor="middle" textLength="102.5" lengthAdjust="spacingAndGlyphs">EAE score (mean +/- SE)</text>
<text x="186.80" y="582.90" font-size="9.4" font-weight="bold" text-anchor="middle" fill="#000" textLength="127.2" lengthAdjust="spacingAndGlyphs">Days after initiation of therapy</text>
<text x="61.80" y="531.70" font-size="8.0" font-weight="normal" text-anchor="start" fill="#1a1a1a" textLength="33.8" lengthAdjust="spacingAndGlyphs">Treatment</text>
<line x1="65.25" y1="537.80" x2="65.25" y2="552.60" stroke="#000" stroke-width="1.1" />
<path d="M63.25,551.60 L67.25,551.60 L65.25,555.60 Z" fill="#000"/>
<line x1="77.40" y1="537.80" x2="77.40" y2="552.60" stroke="#000" stroke-width="1.1" />
<path d="M75.40,551.60 L79.40,551.60 L77.40,555.60 Z" fill="#000"/>
<line x1="89.55" y1="537.80" x2="89.55" y2="552.60" stroke="#000" stroke-width="1.1" />
<path d="M87.55,551.60 L91.55,551.60 L89.55,555.60 Z" fill="#000"/>
<line x1="65.25" y1="499.60" x2="65.25" y2="510.16" stroke="#f75d68" stroke-width="1.25" />
<line x1="63.25" y1="510.16" x2="67.25" y2="510.16" stroke="#f75d68" stroke-width="1.25" />
<line x1="77.40" y1="472.22" x2="77.40" y2="483.02" stroke="#f75d68" stroke-width="1.25" />
<line x1="75.40" y1="483.02" x2="79.40" y2="483.02" stroke="#f75d68" stroke-width="1.25" />
<line x1="89.55" y1="451.87" x2="89.55" y2="464.93" stroke="#f75d68" stroke-width="1.25" />
<line x1="87.55" y1="464.93" x2="91.55" y2="464.93" stroke="#f75d68" stroke-width="1.25" />
<line x1="101.70" y1="454.13" x2="101.70" y2="467.19" stroke="#f75d68" stroke-width="1.25" />
<line x1="99.70" y1="467.19" x2="103.70" y2="467.19" stroke="#f75d68" stroke-width="1.25" />
<line x1="113.85" y1="456.89" x2="113.85" y2="469.96" stroke="#f75d68" stroke-width="1.25" />
<line x1="111.85" y1="469.96" x2="115.85" y2="469.96" stroke="#f75d68" stroke-width="1.25" />
<line x1="126.00" y1="454.38" x2="126.00" y2="467.44" stroke="#f75d68" stroke-width="1.25" />
<line x1="124.00" y1="467.44" x2="128.00" y2="467.44" stroke="#f75d68" stroke-width="1.25" />
<line x1="138.15" y1="457.90" x2="138.15" y2="469.45" stroke="#f75d68" stroke-width="1.25" />
<line x1="136.15" y1="469.45" x2="140.15" y2="469.45" stroke="#f75d68" stroke-width="1.25" />
<line x1="150.30" y1="464.68" x2="150.30" y2="476.24" stroke="#f75d68" stroke-width="1.25" />
<line x1="148.30" y1="476.24" x2="152.30" y2="476.24" stroke="#f75d68" stroke-width="1.25" />
<line x1="162.45" y1="472.47" x2="162.45" y2="483.52" stroke="#f75d68" stroke-width="1.25" />
<line x1="160.45" y1="483.52" x2="164.45" y2="483.52" stroke="#f75d68" stroke-width="1.25" />
<line x1="174.60" y1="474.23" x2="174.60" y2="484.53" stroke="#f75d68" stroke-width="1.25" />
<line x1="172.60" y1="484.53" x2="176.60" y2="484.53" stroke="#f75d68" stroke-width="1.25" />
<line x1="186.75" y1="476.99" x2="186.75" y2="487.54" stroke="#f75d68" stroke-width="1.25" />
<line x1="184.75" y1="487.54" x2="188.75" y2="487.54" stroke="#f75d68" stroke-width="1.25" />
<line x1="198.90" y1="490.31" x2="198.90" y2="501.62" stroke="#f75d68" stroke-width="1.25" />
<line x1="196.90" y1="501.62" x2="200.90" y2="501.62" stroke="#f75d68" stroke-width="1.25" />
<line x1="211.05" y1="487.54" x2="211.05" y2="497.85" stroke="#f75d68" stroke-width="1.25" />
<line x1="209.05" y1="497.85" x2="213.05" y2="497.85" stroke="#f75d68" stroke-width="1.25" />
<line x1="223.20" y1="487.54" x2="223.20" y2="497.85" stroke="#f75d68" stroke-width="1.25" />
<line x1="221.20" y1="497.85" x2="225.20" y2="497.85" stroke="#f75d68" stroke-width="1.25" />
<line x1="235.35" y1="491.82" x2="235.35" y2="502.12" stroke="#f75d68" stroke-width="1.25" />
<line x1="233.35" y1="502.12" x2="237.35" y2="502.12" stroke="#f75d68" stroke-width="1.25" />
<line x1="247.50" y1="490.31" x2="247.50" y2="501.62" stroke="#f75d68" stroke-width="1.25" />
<line x1="245.50" y1="501.62" x2="249.50" y2="501.62" stroke="#f75d68" stroke-width="1.25" />
<line x1="259.65" y1="489.81" x2="259.65" y2="500.61" stroke="#f75d68" stroke-width="1.25" />
<line x1="257.65" y1="500.61" x2="261.65" y2="500.61" stroke="#f75d68" stroke-width="1.25" />
<line x1="271.80" y1="486.54" x2="271.80" y2="497.34" stroke="#f75d68" stroke-width="1.25" />
<line x1="269.80" y1="497.34" x2="273.80" y2="497.34" stroke="#f75d68" stroke-width="1.25" />
<line x1="283.95" y1="481.77" x2="283.95" y2="494.33" stroke="#f75d68" stroke-width="1.25" />
<line x1="281.95" y1="494.33" x2="285.95" y2="494.33" stroke="#f75d68" stroke-width="1.25" />
<line x1="296.10" y1="485.03" x2="296.10" y2="497.34" stroke="#f75d68" stroke-width="1.25" />
<line x1="294.10" y1="497.34" x2="298.10" y2="497.34" stroke="#f75d68" stroke-width="1.25" />
<path d="M65.25,499.60 L77.40,472.22 L89.55,451.87 L101.70,454.13 L113.85,456.89 L126.00,454.38 L138.15,457.90 L150.30,464.68 L162.45,472.47 L174.60,474.23 L186.75,476.99 L198.90,490.31 L211.05,487.54 L223.20,487.54 L235.35,491.82 L247.50,490.31 L259.65,489.81 L271.80,486.54 L283.95,481.77 L296.10,485.03" fill="none" stroke="#f75d68" stroke-width="1.15" stroke-linejoin="round"/>
<circle cx="65.25" cy="499.60" r="1.9" fill="#f75d68"/>
<circle cx="77.40" cy="472.22" r="1.9" fill="#f75d68"/>
<circle cx="89.55" cy="451.87" r="1.9" fill="#f75d68"/>
<circle cx="101.70" cy="454.13" r="1.9" fill="#f75d68"/>
<circle cx="113.85" cy="456.89" r="1.9" fill="#f75d68"/>
<circle cx="126.00" cy="454.38" r="1.9" fill="#f75d68"/>
<circle cx="138.15" cy="457.90" r="1.9" fill="#f75d68"/>
<circle cx="150.30" cy="464.68" r="1.9" fill="#f75d68"/>
<circle cx="162.45" cy="472.47" r="1.9" fill="#f75d68"/>
<circle cx="174.60" cy="474.23" r="1.9" fill="#f75d68"/>
<circle cx="186.75" cy="476.99" r="1.9" fill="#f75d68"/>
<circle cx="198.90" cy="490.31" r="1.9" fill="#f75d68"/>
<circle cx="211.05" cy="487.54" r="1.9" fill="#f75d68"/>
<circle cx="223.20" cy="487.54" r="1.9" fill="#f75d68"/>
<circle cx="235.35" cy="491.82" r="1.9" fill="#f75d68"/>
<circle cx="247.50" cy="490.31" r="1.9" fill="#f75d68"/>
<circle cx="259.65" cy="489.81" r="1.9" fill="#f75d68"/>
<circle cx="271.80" cy="486.54" r="1.9" fill="#f75d68"/>
<circle cx="283.95" cy="481.77" r="1.9" fill="#f75d68"/>
<circle cx="296.10" cy="485.03" r="1.9" fill="#f75d68"/>
<line x1="65.25" y1="494.83" x2="65.25" y2="505.38" stroke="#fec450" stroke-width="1.25" />
<line x1="63.25" y1="505.38" x2="67.25" y2="505.38" stroke="#fec450" stroke-width="1.25" />
<line x1="77.40" y1="462.17" x2="77.40" y2="472.22" stroke="#fec450" stroke-width="1.25" />
<line x1="75.40" y1="472.22" x2="79.40" y2="472.22" stroke="#fec450" stroke-width="1.25" />
<line x1="89.55" y1="445.08" x2="89.55" y2="456.39" stroke="#fec450" stroke-width="1.25" />
<line x1="87.55" y1="456.39" x2="91.55" y2="456.39" stroke="#fec450" stroke-width="1.25" />
<line x1="101.70" y1="440.31" x2="101.70" y2="451.36" stroke="#fec450" stroke-width="1.25" />
<line x1="99.70" y1="451.36" x2="103.70" y2="451.36" stroke="#fec450" stroke-width="1.25" />
<line x1="113.85" y1="443.58" x2="113.85" y2="457.14" stroke="#fec450" stroke-width="1.25" />
<line x1="111.85" y1="457.14" x2="115.85" y2="457.14" stroke="#fec450" stroke-width="1.25" />
<line x1="126.00" y1="441.06" x2="126.00" y2="453.38" stroke="#fec450" stroke-width="1.25" />
<line x1="124.00" y1="453.38" x2="128.00" y2="453.38" stroke="#fec450" stroke-width="1.25" />
<line x1="138.15" y1="441.31" x2="138.15" y2="455.64" stroke="#fec450" stroke-width="1.25" />
<line x1="136.15" y1="455.64" x2="140.15" y2="455.64" stroke="#fec450" stroke-width="1.25" />
<line x1="150.30" y1="446.09" x2="150.30" y2="460.41" stroke="#fec450" stroke-width="1.25" />
<line x1="148.30" y1="460.41" x2="152.30" y2="460.41" stroke="#fec450" stroke-width="1.25" />
<line x1="162.45" y1="452.37" x2="162.45" y2="466.19" stroke="#fec450" stroke-width="1.25" />
<line x1="160.45" y1="466.19" x2="164.45" y2="466.19" stroke="#fec450" stroke-width="1.25" />
<line x1="174.60" y1="460.41" x2="174.60" y2="472.22" stroke="#fec450" stroke-width="1.25" />
<line x1="172.60" y1="472.22" x2="176.60" y2="472.22" stroke="#fec450" stroke-width="1.25" />
<line x1="186.75" y1="460.16" x2="186.75" y2="473.22" stroke="#fec450" stroke-width="1.25" />
<line x1="184.75" y1="473.22" x2="188.75" y2="473.22" stroke="#fec450" stroke-width="1.25" />
<line x1="198.90" y1="464.18" x2="198.90" y2="478.25" stroke="#fec450" stroke-width="1.25" />
<line x1="196.90" y1="478.25" x2="200.90" y2="478.25" stroke="#fec450" stroke-width="1.25" />
<line x1="211.05" y1="465.18" x2="211.05" y2="478.75" stroke="#fec450" stroke-width="1.25" />
<line x1="209.05" y1="478.75" x2="213.05" y2="478.75" stroke="#fec450" stroke-width="1.25" />
<line x1="223.20" y1="467.95" x2="223.20" y2="482.77" stroke="#fec450" stroke-width="1.25" />
<line x1="221.20" y1="482.77" x2="225.20" y2="482.77" stroke="#fec450" stroke-width="1.25" />
<line x1="235.35" y1="469.20" x2="235.35" y2="484.28" stroke="#fec450" stroke-width="1.25" />
<line x1="233.35" y1="484.28" x2="237.35" y2="484.28" stroke="#fec450" stroke-width="1.25" />
<line x1="247.50" y1="457.39" x2="247.50" y2="472.47" stroke="#fec450" stroke-width="1.25" />
<line x1="245.50" y1="472.47" x2="249.50" y2="472.47" stroke="#fec450" stroke-width="1.25" />
<line x1="259.65" y1="463.93" x2="259.65" y2="478.25" stroke="#fec450" stroke-width="1.25" />
<line x1="257.65" y1="478.25" x2="261.65" y2="478.25" stroke="#fec450" stroke-width="1.25" />
<line x1="271.80" y1="465.94" x2="271.80" y2="480.01" stroke="#fec450" stroke-width="1.25" />
<line x1="269.80" y1="480.01" x2="273.80" y2="480.01" stroke="#fec450" stroke-width="1.25" />
<line x1="283.95" y1="468.70" x2="283.95" y2="481.26" stroke="#fec450" stroke-width="1.25" />
<line x1="281.95" y1="481.26" x2="285.95" y2="481.26" stroke="#fec450" stroke-width="1.25" />
<line x1="296.10" y1="467.19" x2="296.10" y2="481.01" stroke="#fec450" stroke-width="1.25" />
<line x1="294.10" y1="481.01" x2="298.10" y2="481.01" stroke="#fec450" stroke-width="1.25" />
<path d="M65.25,494.83 L77.40,462.17 L89.55,445.08 L101.70,440.31 L113.85,443.58 L126.00,441.06 L138.15,441.31 L150.30,446.09 L162.45,452.37 L174.60,460.41 L186.75,460.16 L198.90,464.18 L211.05,465.18 L223.20,467.95 L235.35,469.20 L247.50,457.39 L259.65,463.93 L271.80,465.94 L283.95,468.70 L296.10,467.19" fill="none" stroke="#fec450" stroke-width="1.15" stroke-linejoin="round"/>
<path d="M65.25,497.03 L67.35,493.33 L63.15,493.33 Z" fill="#fec450"/>
<path d="M77.40,464.37 L79.50,460.67 L75.30,460.67 Z" fill="#fec450"/>
<path d="M89.55,447.28 L91.65,443.58 L87.45,443.58 Z" fill="#fec450"/>
<path d="M101.70,442.51 L103.80,438.81 L99.60,438.81 Z" fill="#fec450"/>
<path d="M113.85,445.78 L115.95,442.08 L111.75,442.08 Z" fill="#fec450"/>
<path d="M126.00,443.26 L128.10,439.56 L123.90,439.56 Z" fill="#fec450"/>
<path d="M138.15,443.51 L140.25,439.81 L136.05,439.81 Z" fill="#fec450"/>
<path d="M150.30,448.29 L152.40,444.59 L148.20,444.59 Z" fill="#fec450"/>
<path d="M162.45,454.57 L164.55,450.87 L160.35,450.87 Z" fill="#fec450"/>
<path d="M174.60,462.61 L176.70,458.91 L172.50,458.91 Z" fill="#fec450"/>
<path d="M186.75,462.36 L188.85,458.66 L184.65,458.66 Z" fill="#fec450"/>
<path d="M198.90,466.38 L201.00,462.68 L196.80,462.68 Z" fill="#fec450"/>
<path d="M211.05,467.38 L213.15,463.68 L208.95,463.68 Z" fill="#fec450"/>
<path d="M223.20,470.15 L225.30,466.45 L221.10,466.45 Z" fill="#fec450"/>
<path d="M235.35,471.40 L237.45,467.70 L233.25,467.70 Z" fill="#fec450"/>
<path d="M247.50,459.59 L249.60,455.89 L245.40,455.89 Z" fill="#fec450"/>
<path d="M259.65,466.13 L261.75,462.43 L257.55,462.43 Z" fill="#fec450"/>
<path d="M271.80,468.14 L273.90,464.44 L269.70,464.44 Z" fill="#fec450"/>
<path d="M283.95,470.90 L286.05,467.20 L281.85,467.20 Z" fill="#fec450"/>
<path d="M296.10,469.39 L298.20,465.69 L294.00,465.69 Z" fill="#fec450"/>
<line x1="65.25" y1="497.34" x2="65.25" y2="482.77" stroke="#f98a26" stroke-width="1.25" />
<line x1="63.25" y1="482.77" x2="67.25" y2="482.77" stroke="#f98a26" stroke-width="1.25" />
<line x1="77.40" y1="458.65" x2="77.40" y2="445.84" stroke="#f98a26" stroke-width="1.25" />
<line x1="75.40" y1="445.84" x2="79.40" y2="445.84" stroke="#f98a26" stroke-width="1.25" />
<line x1="89.55" y1="441.31" x2="89.55" y2="429.25" stroke="#f98a26" stroke-width="1.25" />
<line x1="87.55" y1="429.25" x2="91.55" y2="429.25" stroke="#f98a26" stroke-width="1.25" />
<line x1="101.70" y1="438.55" x2="101.70" y2="427.50" stroke="#f98a26" stroke-width="1.25" />
<line x1="99.70" y1="427.50" x2="103.70" y2="427.50" stroke="#f98a26" stroke-width="1.25" />
<line x1="113.85" y1="439.81" x2="113.85" y2="429.51" stroke="#f98a26" stroke-width="1.25" />
<line x1="111.85" y1="429.51" x2="115.85" y2="429.51" stroke="#f98a26" stroke-width="1.25" />
<line x1="126.00" y1="432.52" x2="126.00" y2="422.47" stroke="#f98a26" stroke-width="1.25" />
<line x1="124.00" y1="422.47" x2="128.00" y2="422.47" stroke="#f98a26" stroke-width="1.25" />
<line x1="138.15" y1="441.31" x2="138.15" y2="430.01" stroke="#f98a26" stroke-width="1.25" />
<line x1="136.15" y1="430.01" x2="140.15" y2="430.01" stroke="#f98a26" stroke-width="1.25" />
<line x1="150.30" y1="445.84" x2="150.30" y2="432.77" stroke="#f98a26" stroke-width="1.25" />
<line x1="148.30" y1="432.77" x2="152.30" y2="432.77" stroke="#f98a26" stroke-width="1.25" />
<line x1="162.45" y1="441.82" x2="162.45" y2="430.26" stroke="#f98a26" stroke-width="1.25" />
<line x1="160.45" y1="430.26" x2="164.45" y2="430.26" stroke="#f98a26" stroke-width="1.25" />
<line x1="174.60" y1="450.11" x2="174.60" y2="437.55" stroke="#f98a26" stroke-width="1.25" />
<line x1="172.60" y1="437.55" x2="176.60" y2="437.55" stroke="#f98a26" stroke-width="1.25" />
<line x1="186.75" y1="454.88" x2="186.75" y2="440.31" stroke="#f98a26" stroke-width="1.25" />
<line x1="184.75" y1="440.31" x2="188.75" y2="440.31" stroke="#f98a26" stroke-width="1.25" />
<line x1="198.90" y1="454.38" x2="198.90" y2="439.81" stroke="#f98a26" stroke-width="1.25" />
<line x1="196.90" y1="439.81" x2="200.90" y2="439.81" stroke="#f98a26" stroke-width="1.25" />
<line x1="211.05" y1="457.90" x2="211.05" y2="444.33" stroke="#f98a26" stroke-width="1.25" />
<line x1="209.05" y1="444.33" x2="213.05" y2="444.33" stroke="#f98a26" stroke-width="1.25" />
<line x1="223.20" y1="452.62" x2="223.20" y2="438.05" stroke="#f98a26" stroke-width="1.25" />
<line x1="221.20" y1="438.05" x2="225.20" y2="438.05" stroke="#f98a26" stroke-width="1.25" />
<line x1="235.35" y1="452.62" x2="235.35" y2="438.05" stroke="#f98a26" stroke-width="1.25" />
<line x1="233.35" y1="438.05" x2="237.35" y2="438.05" stroke="#f98a26" stroke-width="1.25" />
<line x1="247.50" y1="460.16" x2="247.50" y2="445.59" stroke="#f98a26" stroke-width="1.25" />
<line x1="245.50" y1="445.59" x2="249.50" y2="445.59" stroke="#f98a26" stroke-width="1.25" />
<line x1="259.65" y1="462.92" x2="259.65" y2="446.59" stroke="#f98a26" stroke-width="1.25" />
<line x1="257.65" y1="446.59" x2="261.65" y2="446.59" stroke="#f98a26" stroke-width="1.25" />
<line x1="271.80" y1="463.93" x2="271.80" y2="447.34" stroke="#f98a26" stroke-width="1.25" />
<line x1="269.80" y1="447.34" x2="273.80" y2="447.34" stroke="#f98a26" stroke-width="1.25" />
<line x1="283.95" y1="469.96" x2="283.95" y2="453.63" stroke="#f98a26" stroke-width="1.25" />
<line x1="281.95" y1="453.63" x2="285.95" y2="453.63" stroke="#f98a26" stroke-width="1.25" />
<line x1="296.10" y1="472.97" x2="296.10" y2="455.89" stroke="#f98a26" stroke-width="1.25" />
<line x1="294.10" y1="455.89" x2="298.10" y2="455.89" stroke="#f98a26" stroke-width="1.25" />
<path d="M65.25,497.34 L77.40,458.65 L89.55,441.31 L101.70,438.55 L113.85,439.81 L126.00,432.52 L138.15,441.31 L150.30,445.84 L162.45,441.82 L174.60,450.11 L186.75,454.88 L198.90,454.38 L211.05,457.90 L223.20,452.62 L235.35,452.62 L247.50,460.16 L259.65,462.92 L271.80,463.93 L283.95,469.96 L296.10,472.97" fill="none" stroke="#f98a26" stroke-width="1.15" stroke-linejoin="round"/>
<path d="M65.25,495.14 L67.35,498.84 L63.15,498.84 Z" fill="#f98a26"/>
<path d="M77.40,456.45 L79.50,460.15 L75.30,460.15 Z" fill="#f98a26"/>
<path d="M89.55,439.12 L91.65,442.81 L87.45,442.81 Z" fill="#f98a26"/>
<path d="M101.70,436.35 L103.80,440.05 L99.60,440.05 Z" fill="#f98a26"/>
<path d="M113.85,437.61 L115.95,441.31 L111.75,441.31 Z" fill="#f98a26"/>
<path d="M126.00,430.32 L128.10,434.02 L123.90,434.02 Z" fill="#f98a26"/>
<path d="M138.15,439.12 L140.25,442.81 L136.05,442.81 Z" fill="#f98a26"/>
<path d="M150.30,443.64 L152.40,447.34 L148.20,447.34 Z" fill="#f98a26"/>
<path d="M162.45,439.62 L164.55,443.32 L160.35,443.32 Z" fill="#f98a26"/>
<path d="M174.60,447.91 L176.70,451.61 L172.50,451.61 Z" fill="#f98a26"/>
<path d="M186.75,452.68 L188.85,456.38 L184.65,456.38 Z" fill="#f98a26"/>
<path d="M198.90,452.18 L201.00,455.88 L196.80,455.88 Z" fill="#f98a26"/>
<path d="M211.05,455.70 L213.15,459.40 L208.95,459.40 Z" fill="#f98a26"/>
<path d="M223.20,450.42 L225.30,454.12 L221.10,454.12 Z" fill="#f98a26"/>
<path d="M235.35,450.42 L237.45,454.12 L233.25,454.12 Z" fill="#f98a26"/>
<path d="M247.50,457.96 L249.60,461.66 L245.40,461.66 Z" fill="#f98a26"/>
<path d="M259.65,460.72 L261.75,464.42 L257.55,464.42 Z" fill="#f98a26"/>
<path d="M271.80,461.73 L273.90,465.43 L269.70,465.43 Z" fill="#f98a26"/>
<path d="M283.95,467.76 L286.05,471.46 L281.85,471.46 Z" fill="#f98a26"/>
<path d="M296.10,470.77 L298.20,474.47 L294.00,474.47 Z" fill="#f98a26"/>
<line x1="65.25" y1="499.60" x2="65.25" y2="487.29" stroke="#0f7f7e" stroke-width="1.25" />
<line x1="63.25" y1="487.29" x2="67.25" y2="487.29" stroke="#0f7f7e" stroke-width="1.25" />
<line x1="77.40" y1="460.91" x2="77.40" y2="448.85" stroke="#0f7f7e" stroke-width="1.25" />
<line x1="75.40" y1="448.85" x2="79.40" y2="448.85" stroke="#0f7f7e" stroke-width="1.25" />
<line x1="89.55" y1="441.31" x2="89.55" y2="427.75" stroke="#0f7f7e" stroke-width="1.25" />
<line x1="87.55" y1="427.75" x2="91.55" y2="427.75" stroke="#0f7f7e" stroke-width="1.25" />
<line x1="101.70" y1="430.51" x2="101.70" y2="418.45" stroke="#0f7f7e" stroke-width="1.25" />
<line x1="99.70" y1="418.45" x2="103.70" y2="418.45" stroke="#0f7f7e" stroke-width="1.25" />
<line x1="113.85" y1="420.96" x2="113.85" y2="409.41" stroke="#0f7f7e" stroke-width="1.25" />
<line x1="111.85" y1="409.41" x2="115.85" y2="409.41" stroke="#0f7f7e" stroke-width="1.25" />
<line x1="126.00" y1="416.69" x2="126.00" y2="406.14" stroke="#0f7f7e" stroke-width="1.25" />
<line x1="124.00" y1="406.14" x2="128.00" y2="406.14" stroke="#0f7f7e" stroke-width="1.25" />
<line x1="138.15" y1="410.16" x2="138.15" y2="400.61" stroke="#0f7f7e" stroke-width="1.25" />
<line x1="136.15" y1="400.61" x2="140.15" y2="400.61" stroke="#0f7f7e" stroke-width="1.25" />
<line x1="150.30" y1="411.67" x2="150.30" y2="402.62" stroke="#0f7f7e" stroke-width="1.25" />
<line x1="148.30" y1="402.62" x2="152.30" y2="402.62" stroke="#0f7f7e" stroke-width="1.25" />
<line x1="162.45" y1="419.96" x2="162.45" y2="411.67" stroke="#0f7f7e" stroke-width="1.25" />
<line x1="160.45" y1="411.67" x2="164.45" y2="411.67" stroke="#0f7f7e" stroke-width="1.25" />
<line x1="174.60" y1="426.49" x2="174.60" y2="417.19" stroke="#0f7f7e" stroke-width="1.25" />
<line x1="172.60" y1="417.19" x2="176.60" y2="417.19" stroke="#0f7f7e" stroke-width="1.25" />
<line x1="186.75" y1="424.23" x2="186.75" y2="413.68" stroke="#0f7f7e" stroke-width="1.25" />
<line x1="184.75" y1="413.68" x2="188.75" y2="413.68" stroke="#0f7f7e" stroke-width="1.25" />
<line x1="198.90" y1="435.28" x2="198.90" y2="423.48" stroke="#0f7f7e" stroke-width="1.25" />
<line x1="196.90" y1="423.48" x2="200.90" y2="423.48" stroke="#0f7f7e" stroke-width="1.25" />
<line x1="211.05" y1="434.28" x2="211.05" y2="421.97" stroke="#0f7f7e" stroke-width="1.25" />
<line x1="209.05" y1="421.97" x2="213.05" y2="421.97" stroke="#0f7f7e" stroke-width="1.25" />
<line x1="223.20" y1="434.78" x2="223.20" y2="423.48" stroke="#0f7f7e" stroke-width="1.25" />
<line x1="221.20" y1="423.48" x2="225.20" y2="423.48" stroke="#0f7f7e" stroke-width="1.25" />
<line x1="235.35" y1="441.06" x2="235.35" y2="429.00" stroke="#0f7f7e" stroke-width="1.25" />
<line x1="233.35" y1="429.00" x2="237.35" y2="429.00" stroke="#0f7f7e" stroke-width="1.25" />
<line x1="247.50" y1="438.80" x2="247.50" y2="426.74" stroke="#0f7f7e" stroke-width="1.25" />
<line x1="245.50" y1="426.74" x2="249.50" y2="426.74" stroke="#0f7f7e" stroke-width="1.25" />
<line x1="259.65" y1="443.32" x2="259.65" y2="429.76" stroke="#0f7f7e" stroke-width="1.25" />
<line x1="257.65" y1="429.76" x2="261.65" y2="429.76" stroke="#0f7f7e" stroke-width="1.25" />
<line x1="271.80" y1="445.59" x2="271.80" y2="432.52" stroke="#0f7f7e" stroke-width="1.25" />
<line x1="269.80" y1="432.52" x2="273.80" y2="432.52" stroke="#0f7f7e" stroke-width="1.25" />
<line x1="283.95" y1="448.60" x2="283.95" y2="435.03" stroke="#0f7f7e" stroke-width="1.25" />
<line x1="281.95" y1="435.03" x2="285.95" y2="435.03" stroke="#0f7f7e" stroke-width="1.25" />
<line x1="296.10" y1="450.11" x2="296.10" y2="436.29" stroke="#0f7f7e" stroke-width="1.25" />
<line x1="294.10" y1="436.29" x2="298.10" y2="436.29" stroke="#0f7f7e" stroke-width="1.25" />
<path d="M65.25,499.60 L77.40,460.91 L89.55,441.31 L101.70,430.51 L113.85,420.96 L126.00,416.69 L138.15,410.16 L150.30,411.67 L162.45,419.96 L174.60,426.49 L186.75,424.23 L198.90,435.28 L211.05,434.28 L223.20,434.78 L235.35,441.06 L247.50,438.80 L259.65,443.32 L271.80,445.59 L283.95,448.60 L296.10,450.11" fill="none" stroke="#0f7f7e" stroke-width="1.15" stroke-linejoin="round"/>
<circle cx="65.25" cy="499.60" r="1.9" fill="#0f7f7e"/>
<circle cx="77.40" cy="460.91" r="1.9" fill="#0f7f7e"/>
<circle cx="89.55" cy="441.31" r="1.9" fill="#0f7f7e"/>
<circle cx="101.70" cy="430.51" r="1.9" fill="#0f7f7e"/>
<circle cx="113.85" cy="420.96" r="1.9" fill="#0f7f7e"/>
<circle cx="126.00" cy="416.69" r="1.9" fill="#0f7f7e"/>
<circle cx="138.15" cy="410.16" r="1.9" fill="#0f7f7e"/>
<circle cx="150.30" cy="411.67" r="1.9" fill="#0f7f7e"/>
<circle cx="162.45" cy="419.96" r="1.9" fill="#0f7f7e"/>
<circle cx="174.60" cy="426.49" r="1.9" fill="#0f7f7e"/>
<circle cx="186.75" cy="424.23" r="1.9" fill="#0f7f7e"/>
<circle cx="198.90" cy="435.28" r="1.9" fill="#0f7f7e"/>
<circle cx="211.05" cy="434.28" r="1.9" fill="#0f7f7e"/>
<circle cx="223.20" cy="434.78" r="1.9" fill="#0f7f7e"/>
<circle cx="235.35" cy="441.06" r="1.9" fill="#0f7f7e"/>
<circle cx="247.50" cy="438.80" r="1.9" fill="#0f7f7e"/>
<circle cx="259.65" cy="443.32" r="1.9" fill="#0f7f7e"/>
<circle cx="271.80" cy="445.59" r="1.9" fill="#0f7f7e"/>
<circle cx="283.95" cy="448.60" r="1.9" fill="#0f7f7e"/>
<circle cx="296.10" cy="450.11" r="1.9" fill="#0f7f7e"/>
<path d="M302.3,449.9 H309.9 M306.3,449.9 V485 M302.3,485 H322.6 M308.7,466.9 H316.3 M312.7,466.9 V485 M314.8,473.3 H322.6 M318.9,473.3 V485" stroke="#2a2a2a" stroke-width="1.3" fill="none"/>
<path d="M324.7,449.9 H338.7 M328.8,449.9 V467.2 M324.7,467.2 H332.6 M335,449.9 V472.3 M331.1,472.3 H338.7" stroke="#2a2a2a" stroke-width="1.3" fill="none"/>
<path d="M324.70,478.00 L324.10,482.40 M326.10,478.00 L325.50,482.40 M323.50,479.45 L326.60,479.45 M323.20,480.95 L326.40,480.95 M329.90,478.00 L329.30,482.40 M331.30,478.00 L330.70,482.40 M328.70,479.45 L331.80,479.45 M328.40,480.95 L331.60,480.95 M335.10,478.00 L334.50,482.40 M336.50,478.00 L335.90,482.40 M333.90,479.45 L337.00,479.45 M333.60,480.95 L336.80,480.95 " stroke="#1a1a1a" stroke-width="0.8" fill="none"/>
<path d="M341.40,457.00 L340.80,461.40 M342.80,457.00 L342.20,461.40 M340.20,458.45 L343.30,458.45 M339.90,459.95 L343.10,459.95 M346.60,457.00 L346.00,461.40 M348.00,457.00 L347.40,461.40 M345.40,458.45 L348.50,458.45 M345.10,459.95 L348.30,459.95 M351.80,457.00 L351.20,461.40 M353.20,457.00 L352.60,461.40 M350.60,458.45 L353.70,458.45 M350.30,459.95 L353.50,459.95 " stroke="#1a1a1a" stroke-width="0.8" fill="none"/>
<text x="375.30" y="345.50" font-size="16.8" font-weight="bold" text-anchor="start" fill="#000" stroke="#000" stroke-width="0.5">D</text>
<text x="521.00" y="316.00" font-size="11.2" font-weight="bold" stroke="#000" stroke-width="0.35">GR<tspan font-size="7.6" dy="-4.7" dx="0.3" stroke-width="0.25">lck</tspan></text>
<line x1="547.00" y1="329.00" x2="557.20" y2="329.00" stroke="#0f7f7e" stroke-width="1.2" />
<circle cx="552.10" cy="329.00" r="1.9" fill="#0f7f7e"/>
<text x="562.60" y="331.70" font-size="7.56" font-weight="normal" text-anchor="start" fill="#111" stroke="#111" stroke-width="0.15">Control (n=9)</text>
<line x1="547.00" y1="341.70" x2="557.20" y2="341.70" stroke="#f98a26" stroke-width="1.2" />
<path d="M552.10,339.50 L554.20,343.20 L550.00,343.20 Z" fill="#f98a26"/>
<text x="562.60" y="344.40" font-size="7.56" font-weight="normal" text-anchor="start" fill="#111" stroke="#111" stroke-width="0.15">4.0 mg/kg MP (n=7)</text>
<line x1="547.00" y1="354.40" x2="557.20" y2="354.40" stroke="#fec450" stroke-width="1.2" />
<path d="M552.10,356.60 L554.20,352.90 L550.00,352.90 Z" fill="#fec450"/>
<text x="562.60" y="357.10" font-size="7.56" font-weight="normal" text-anchor="start" fill="#111" stroke="#111" stroke-width="0.15">10 ng 1.25D (n=10)</text>
<line x1="547.00" y1="367.10" x2="557.20" y2="367.10" stroke="#f75d68" stroke-width="1.2" />
<circle cx="552.10" cy="367.10" r="1.9" fill="#f75d68"/>
<text x="562.60" y="369.80" font-size="7.56" font-weight="normal" text-anchor="start" fill="#111" stroke="#111" stroke-width="0.15">10 ng 1.25D + 4.0 mg/kg MP (n=9)</text>
<line x1="401.00" y1="357.30" x2="401.00" y2="559.90" stroke="#000" stroke-width="1.6" />
<line x1="400.00" y1="559.20" x2="669.22" y2="559.20" stroke="#000" stroke-width="1.7" />
<line x1="398.20" y1="558.90" x2="401.00" y2="558.90" stroke="#000" stroke-width="1.4" />
<text x="397.20" y="562.20" font-size="9.3" font-weight="normal" text-anchor="end" fill="#222" >0</text>
<line x1="399.40" y1="546.34" x2="401.00" y2="546.34" stroke="#000" stroke-width="1.1" />
<line x1="398.20" y1="533.77" x2="401.00" y2="533.77" stroke="#000" stroke-width="1.4" />
<text x="397.20" y="537.07" font-size="9.3" font-weight="normal" text-anchor="end" fill="#222" >1</text>
<line x1="399.40" y1="521.21" x2="401.00" y2="521.21" stroke="#000" stroke-width="1.1" />
<line x1="398.20" y1="508.65" x2="401.00" y2="508.65" stroke="#000" stroke-width="1.4" />
<text x="397.20" y="511.95" font-size="9.3" font-weight="normal" text-anchor="end" fill="#222" >2</text>
<line x1="399.40" y1="496.09" x2="401.00" y2="496.09" stroke="#000" stroke-width="1.1" />
<line x1="398.20" y1="483.52" x2="401.00" y2="483.52" stroke="#000" stroke-width="1.4" />
<text x="397.20" y="486.82" font-size="9.3" font-weight="normal" text-anchor="end" fill="#222" >3</text>
<line x1="399.40" y1="470.96" x2="401.00" y2="470.96" stroke="#000" stroke-width="1.1" />
<line x1="398.20" y1="458.40" x2="401.00" y2="458.40" stroke="#000" stroke-width="1.4" />
<text x="397.20" y="461.70" font-size="9.3" font-weight="normal" text-anchor="end" fill="#222" >4</text>
<line x1="399.40" y1="445.84" x2="401.00" y2="445.84" stroke="#000" stroke-width="1.1" />
<line x1="398.20" y1="433.27" x2="401.00" y2="433.27" stroke="#000" stroke-width="1.4" />
<text x="397.20" y="436.57" font-size="9.3" font-weight="normal" text-anchor="end" fill="#222" >5</text>
<line x1="399.40" y1="420.71" x2="401.00" y2="420.71" stroke="#000" stroke-width="1.1" />
<line x1="398.20" y1="408.15" x2="401.00" y2="408.15" stroke="#000" stroke-width="1.4" />
<text x="397.20" y="411.45" font-size="9.3" font-weight="normal" text-anchor="end" fill="#222" >6</text>
<line x1="399.40" y1="395.59" x2="401.00" y2="395.59" stroke="#000" stroke-width="1.1" />
<line x1="398.20" y1="383.02" x2="401.00" y2="383.02" stroke="#000" stroke-width="1.4" />
<text x="397.20" y="386.32" font-size="9.3" font-weight="normal" text-anchor="end" fill="#222" >7</text>
<line x1="399.40" y1="370.46" x2="401.00" y2="370.46" stroke="#000" stroke-width="1.1" />
<line x1="398.20" y1="357.90" x2="401.00" y2="357.90" stroke="#000" stroke-width="1.4" />
<text x="397.20" y="361.20" font-size="9.3" font-weight="normal" text-anchor="end" fill="#222" >8</text>
<line x1="401.00" y1="558.90" x2="401.00" y2="561.70" stroke="#000" stroke-width="1.3" />
<text x="401.00" y="571.20" font-size="9.2" font-weight="normal" text-anchor="middle" fill="#222" >0</text>
<line x1="425.32" y1="558.90" x2="425.32" y2="561.70" stroke="#000" stroke-width="1.3" />
<text x="425.32" y="571.20" font-size="9.2" font-weight="normal" text-anchor="middle" fill="#222" >2</text>
<line x1="449.64" y1="558.90" x2="449.64" y2="561.70" stroke="#000" stroke-width="1.3" />
<text x="449.64" y="571.20" font-size="9.2" font-weight="normal" text-anchor="middle" fill="#222" >4</text>
<line x1="473.96" y1="558.90" x2="473.96" y2="561.70" stroke="#000" stroke-width="1.3" />
<text x="473.96" y="571.20" font-size="9.2" font-weight="normal" text-anchor="middle" fill="#222" >6</text>
<line x1="498.28" y1="558.90" x2="498.28" y2="561.70" stroke="#000" stroke-width="1.3" />
<text x="498.28" y="571.20" font-size="9.2" font-weight="normal" text-anchor="middle" fill="#222" >8</text>
<line x1="522.60" y1="558.90" x2="522.60" y2="561.70" stroke="#000" stroke-width="1.3" />
<text x="522.60" y="571.20" font-size="9.2" font-weight="normal" text-anchor="middle" fill="#222" >10</text>
<line x1="546.92" y1="558.90" x2="546.92" y2="561.70" stroke="#000" stroke-width="1.3" />
<text x="546.92" y="571.20" font-size="9.2" font-weight="normal" text-anchor="middle" fill="#222" >12</text>
<line x1="571.24" y1="558.90" x2="571.24" y2="561.70" stroke="#000" stroke-width="1.3" />
<text x="571.24" y="571.20" font-size="9.2" font-weight="normal" text-anchor="middle" fill="#222" >14</text>
<line x1="595.56" y1="558.90" x2="595.56" y2="561.70" stroke="#000" stroke-width="1.3" />
<text x="595.56" y="571.20" font-size="9.2" font-weight="normal" text-anchor="middle" fill="#222" >16</text>
<line x1="619.88" y1="558.90" x2="619.88" y2="561.70" stroke="#000" stroke-width="1.3" />
<text x="619.88" y="571.20" font-size="9.2" font-weight="normal" text-anchor="middle" fill="#222" >18</text>
<line x1="644.20" y1="558.90" x2="644.20" y2="561.70" stroke="#000" stroke-width="1.3" />
<text x="644.20" y="571.20" font-size="9.2" font-weight="normal" text-anchor="middle" fill="#222" >20</text>
<line x1="668.52" y1="558.90" x2="668.52" y2="561.70" stroke="#000" stroke-width="1.3" />
<text x="668.52" y="571.20" font-size="9.2" font-weight="normal" text-anchor="middle" fill="#222" >22</text>
<text transform="translate(384.00,457.20) rotate(-90)" font-size="9.4" font-weight="bold" text-anchor="middle" textLength="102.5" lengthAdjust="spacingAndGlyphs">EAE score (mean +/- SE)</text>
<text x="534.80" y="582.90" font-size="9.4" font-weight="bold" text-anchor="middle" fill="#000" textLength="127.2" lengthAdjust="spacingAndGlyphs">Days after initiation of therapy</text>
<text x="410.20" y="531.70" font-size="8.0" font-weight="normal" text-anchor="start" fill="#1a1a1a" textLength="33.8" lengthAdjust="spacingAndGlyphs">Treatment</text>
<line x1="413.16" y1="537.80" x2="413.16" y2="552.60" stroke="#000" stroke-width="1.1" />
<path d="M411.16,551.60 L415.16,551.60 L413.16,555.60 Z" fill="#000"/>
<line x1="425.32" y1="537.80" x2="425.32" y2="552.60" stroke="#000" stroke-width="1.1" />
<path d="M423.32,551.60 L427.32,551.60 L425.32,555.60 Z" fill="#000"/>
<line x1="437.48" y1="537.80" x2="437.48" y2="552.60" stroke="#000" stroke-width="1.1" />
<path d="M435.48,551.60 L439.48,551.60 L437.48,555.60 Z" fill="#000"/>
<line x1="413.16" y1="458.40" x2="413.16" y2="470.96" stroke="#f75d68" stroke-width="1.25" />
<line x1="411.16" y1="470.96" x2="415.16" y2="470.96" stroke="#f75d68" stroke-width="1.25" />
<line x1="425.32" y1="430.26" x2="425.32" y2="449.10" stroke="#f75d68" stroke-width="1.25" />
<line x1="423.32" y1="449.10" x2="427.32" y2="449.10" stroke="#f75d68" stroke-width="1.25" />
<line x1="437.48" y1="419.46" x2="437.48" y2="438.05" stroke="#f75d68" stroke-width="1.25" />
<line x1="435.48" y1="438.05" x2="439.48" y2="438.05" stroke="#f75d68" stroke-width="1.25" />
<line x1="449.64" y1="408.40" x2="449.64" y2="428.50" stroke="#f75d68" stroke-width="1.25" />
<line x1="447.64" y1="428.50" x2="451.64" y2="428.50" stroke="#f75d68" stroke-width="1.25" />
<line x1="461.80" y1="408.40" x2="461.80" y2="428.50" stroke="#f75d68" stroke-width="1.25" />
<line x1="459.80" y1="428.50" x2="463.80" y2="428.50" stroke="#f75d68" stroke-width="1.25" />
<line x1="473.96" y1="405.64" x2="473.96" y2="425.49" stroke="#f75d68" stroke-width="1.25" />
<line x1="471.96" y1="425.49" x2="475.96" y2="425.49" stroke="#f75d68" stroke-width="1.25" />
<line x1="486.12" y1="385.79" x2="486.12" y2="395.59" stroke="#f75d68" stroke-width="1.25" />
<line x1="484.12" y1="395.59" x2="488.12" y2="395.59" stroke="#f75d68" stroke-width="1.25" />
<line x1="498.28" y1="391.32" x2="498.28" y2="400.86" stroke="#f75d68" stroke-width="1.25" />
<line x1="496.28" y1="400.86" x2="500.28" y2="400.86" stroke="#f75d68" stroke-width="1.25" />
<line x1="510.44" y1="391.32" x2="510.44" y2="400.86" stroke="#f75d68" stroke-width="1.25" />
<line x1="508.44" y1="400.86" x2="512.44" y2="400.86" stroke="#f75d68" stroke-width="1.25" />
<line x1="522.60" y1="402.62" x2="522.60" y2="410.66" stroke="#f75d68" stroke-width="1.25" />
<line x1="520.60" y1="410.66" x2="524.60" y2="410.66" stroke="#f75d68" stroke-width="1.25" />
<line x1="534.76" y1="440.06" x2="534.76" y2="462.67" stroke="#f75d68" stroke-width="1.25" />
<line x1="532.76" y1="462.67" x2="536.76" y2="462.67" stroke="#f75d68" stroke-width="1.25" />
<line x1="546.92" y1="458.65" x2="546.92" y2="478.50" stroke="#f75d68" stroke-width="1.25" />
<line x1="544.92" y1="478.50" x2="548.92" y2="478.50" stroke="#f75d68" stroke-width="1.25" />
<line x1="559.08" y1="458.65" x2="559.08" y2="478.50" stroke="#f75d68" stroke-width="1.25" />
<line x1="557.08" y1="478.50" x2="561.08" y2="478.50" stroke="#f75d68" stroke-width="1.25" />
<line x1="571.24" y1="476.99" x2="571.24" y2="499.60" stroke="#f75d68" stroke-width="1.25" />
<line x1="569.24" y1="499.60" x2="573.24" y2="499.60" stroke="#f75d68" stroke-width="1.25" />
<line x1="583.40" y1="464.68" x2="583.40" y2="483.02" stroke="#f75d68" stroke-width="1.25" />
<line x1="581.40" y1="483.02" x2="585.40" y2="483.02" stroke="#f75d68" stroke-width="1.25" />
<line x1="595.56" y1="464.68" x2="595.56" y2="483.02" stroke="#f75d68" stroke-width="1.25" />
<line x1="593.56" y1="483.02" x2="597.56" y2="483.02" stroke="#f75d68" stroke-width="1.25" />
<line x1="607.72" y1="464.68" x2="607.72" y2="483.02" stroke="#f75d68" stroke-width="1.25" />
<line x1="605.72" y1="483.02" x2="609.72" y2="483.02" stroke="#f75d68" stroke-width="1.25" />
<line x1="619.88" y1="464.68" x2="619.88" y2="483.02" stroke="#f75d68" stroke-width="1.25" />
<line x1="617.88" y1="483.02" x2="621.88" y2="483.02" stroke="#f75d68" stroke-width="1.25" />
<line x1="632.04" y1="464.68" x2="632.04" y2="483.02" stroke="#f75d68" stroke-width="1.25" />
<line x1="630.04" y1="483.02" x2="634.04" y2="483.02" stroke="#f75d68" stroke-width="1.25" />
<path d="M413.16,458.40 L425.32,430.26 L437.48,419.46 L449.64,408.40 L461.80,408.40 L473.96,405.64 L486.12,385.79 L498.28,391.32 L510.44,391.32 L522.60,402.62 L534.76,440.06 L546.92,458.65 L559.08,458.65 L571.24,476.99 L583.40,464.68 L595.56,464.68 L607.72,464.68 L619.88,464.68 L632.04,464.68" fill="none" stroke="#f75d68" stroke-width="1.15" stroke-linejoin="round"/>
<rect x="411.36" y="456.60" width="3.6" height="3.6" fill="#f75d68"/>
<rect x="423.52" y="428.46" width="3.6" height="3.6" fill="#f75d68"/>
<rect x="435.68" y="417.66" width="3.6" height="3.6" fill="#f75d68"/>
<rect x="447.84" y="406.60" width="3.6" height="3.6" fill="#f75d68"/>
<rect x="460.00" y="406.60" width="3.6" height="3.6" fill="#f75d68"/>
<rect x="472.16" y="403.84" width="3.6" height="3.6" fill="#f75d68"/>
<rect x="484.32" y="383.99" width="3.6" height="3.6" fill="#f75d68"/>
<rect x="496.48" y="389.52" width="3.6" height="3.6" fill="#f75d68"/>
<rect x="508.64" y="389.52" width="3.6" height="3.6" fill="#f75d68"/>
<rect x="520.80" y="400.82" width="3.6" height="3.6" fill="#f75d68"/>
<rect x="532.96" y="438.26" width="3.6" height="3.6" fill="#f75d68"/>
<rect x="545.12" y="456.85" width="3.6" height="3.6" fill="#f75d68"/>
<rect x="557.28" y="456.85" width="3.6" height="3.6" fill="#f75d68"/>
<rect x="569.44" y="475.19" width="3.6" height="3.6" fill="#f75d68"/>
<rect x="581.60" y="462.88" width="3.6" height="3.6" fill="#f75d68"/>
<rect x="593.76" y="462.88" width="3.6" height="3.6" fill="#f75d68"/>
<rect x="605.92" y="462.88" width="3.6" height="3.6" fill="#f75d68"/>
<rect x="618.08" y="462.88" width="3.6" height="3.6" fill="#f75d68"/>
<rect x="630.24" y="462.88" width="3.6" height="3.6" fill="#f75d68"/>
<line x1="413.16" y1="461.67" x2="413.16" y2="484.28" stroke="#fec450" stroke-width="1.25" />
<line x1="411.16" y1="484.28" x2="415.16" y2="484.28" stroke="#fec450" stroke-width="1.25" />
<line x1="425.32" y1="437.80" x2="425.32" y2="450.86" stroke="#fec450" stroke-width="1.25" />
<line x1="423.32" y1="450.86" x2="427.32" y2="450.86" stroke="#fec450" stroke-width="1.25" />
<line x1="437.48" y1="428.00" x2="437.48" y2="442.07" stroke="#fec450" stroke-width="1.25" />
<line x1="435.48" y1="442.07" x2="439.48" y2="442.07" stroke="#fec450" stroke-width="1.25" />
<line x1="449.64" y1="418.70" x2="449.64" y2="431.77" stroke="#fec450" stroke-width="1.25" />
<line x1="447.64" y1="431.77" x2="451.64" y2="431.77" stroke="#fec450" stroke-width="1.25" />
<line x1="461.80" y1="417.95" x2="461.80" y2="434.53" stroke="#fec450" stroke-width="1.25" />
<line x1="459.80" y1="434.53" x2="463.80" y2="434.53" stroke="#fec450" stroke-width="1.25" />
<line x1="473.96" y1="415.18" x2="473.96" y2="430.76" stroke="#fec450" stroke-width="1.25" />
<line x1="471.96" y1="430.76" x2="475.96" y2="430.76" stroke="#fec450" stroke-width="1.25" />
<line x1="486.12" y1="408.40" x2="486.12" y2="419.71" stroke="#fec450" stroke-width="1.25" />
<line x1="484.12" y1="419.71" x2="488.12" y2="419.71" stroke="#fec450" stroke-width="1.25" />
<line x1="498.28" y1="412.67" x2="498.28" y2="426.49" stroke="#fec450" stroke-width="1.25" />
<line x1="496.28" y1="426.49" x2="500.28" y2="426.49" stroke="#fec450" stroke-width="1.25" />
<line x1="510.44" y1="410.91" x2="510.44" y2="422.22" stroke="#fec450" stroke-width="1.25" />
<line x1="508.44" y1="422.22" x2="512.44" y2="422.22" stroke="#fec450" stroke-width="1.25" />
<line x1="522.60" y1="415.94" x2="522.60" y2="427.25" stroke="#fec450" stroke-width="1.25" />
<line x1="520.60" y1="427.25" x2="524.60" y2="427.25" stroke="#fec450" stroke-width="1.25" />
<line x1="534.76" y1="438.55" x2="534.76" y2="456.89" stroke="#fec450" stroke-width="1.25" />
<line x1="532.76" y1="456.89" x2="536.76" y2="456.89" stroke="#fec450" stroke-width="1.25" />
<line x1="546.92" y1="438.55" x2="546.92" y2="456.89" stroke="#fec450" stroke-width="1.25" />
<line x1="544.92" y1="456.89" x2="548.92" y2="456.89" stroke="#fec450" stroke-width="1.25" />
<line x1="559.08" y1="438.55" x2="559.08" y2="456.89" stroke="#fec450" stroke-width="1.25" />
<line x1="557.08" y1="456.89" x2="561.08" y2="456.89" stroke="#fec450" stroke-width="1.25" />
<line x1="571.24" y1="442.57" x2="571.24" y2="460.16" stroke="#fec450" stroke-width="1.25" />
<line x1="569.24" y1="460.16" x2="573.24" y2="460.16" stroke="#fec450" stroke-width="1.25" />
<line x1="583.40" y1="448.85" x2="583.40" y2="464.68" stroke="#fec450" stroke-width="1.25" />
<line x1="581.40" y1="464.68" x2="585.40" y2="464.68" stroke="#fec450" stroke-width="1.25" />
<line x1="595.56" y1="448.85" x2="595.56" y2="464.68" stroke="#fec450" stroke-width="1.25" />
<line x1="593.56" y1="464.68" x2="597.56" y2="464.68" stroke="#fec450" stroke-width="1.25" />
<line x1="607.72" y1="453.12" x2="607.72" y2="474.73" stroke="#fec450" stroke-width="1.25" />
<line x1="605.72" y1="474.73" x2="609.72" y2="474.73" stroke="#fec450" stroke-width="1.25" />
<line x1="619.88" y1="453.12" x2="619.88" y2="474.73" stroke="#fec450" stroke-width="1.25" />
<line x1="617.88" y1="474.73" x2="621.88" y2="474.73" stroke="#fec450" stroke-width="1.25" />
<line x1="632.04" y1="457.65" x2="632.04" y2="479.50" stroke="#fec450" stroke-width="1.25" />
<line x1="630.04" y1="479.50" x2="634.04" y2="479.50" stroke="#fec450" stroke-width="1.25" />
<path d="M413.16,461.67 L425.32,437.80 L437.48,428.00 L449.64,418.70 L461.80,417.95 L473.96,415.18 L486.12,408.40 L498.28,412.67 L510.44,410.91 L522.60,415.94 L534.76,438.55 L546.92,438.55 L559.08,438.55 L571.24,442.57 L583.40,448.85 L595.56,448.85 L607.72,453.12 L619.88,453.12 L632.04,457.65" fill="none" stroke="#fec450" stroke-width="1.15" stroke-linejoin="round"/>
<path d="M413.16,463.87 L415.26,460.17 L411.06,460.17 Z" fill="#fec450"/>
<path d="M425.32,440.00 L427.42,436.30 L423.22,436.30 Z" fill="#fec450"/>
<path d="M437.48,430.20 L439.58,426.50 L435.38,426.50 Z" fill="#fec450"/>
<path d="M449.64,420.90 L451.74,417.20 L447.54,417.20 Z" fill="#fec450"/>
<path d="M461.80,420.15 L463.90,416.45 L459.70,416.45 Z" fill="#fec450"/>
<path d="M473.96,417.38 L476.06,413.68 L471.86,413.68 Z" fill="#fec450"/>
<path d="M486.12,410.60 L488.22,406.90 L484.02,406.90 Z" fill="#fec450"/>
<path d="M498.28,414.87 L500.38,411.17 L496.18,411.17 Z" fill="#fec450"/>
<path d="M510.44,413.11 L512.54,409.41 L508.34,409.41 Z" fill="#fec450"/>
<path d="M522.60,418.14 L524.70,414.44 L520.50,414.44 Z" fill="#fec450"/>
<path d="M534.76,440.75 L536.86,437.05 L532.66,437.05 Z" fill="#fec450"/>
<path d="M546.92,440.75 L549.02,437.05 L544.82,437.05 Z" fill="#fec450"/>
<path d="M559.08,440.75 L561.18,437.05 L556.98,437.05 Z" fill="#fec450"/>
<path d="M571.24,444.77 L573.34,441.07 L569.14,441.07 Z" fill="#fec450"/>
<path d="M583.40,451.05 L585.50,447.35 L581.30,447.35 Z" fill="#fec450"/>
<path d="M595.56,451.05 L597.66,447.35 L593.46,447.35 Z" fill="#fec450"/>
<path d="M607.72,455.32 L609.82,451.62 L605.62,451.62 Z" fill="#fec450"/>
<path d="M619.88,455.32 L621.98,451.62 L617.78,451.62 Z" fill="#fec450"/>
<path d="M632.04,459.85 L634.14,456.15 L629.94,456.15 Z" fill="#fec450"/>
<line x1="413.16" y1="458.40" x2="413.16" y2="432.52" stroke="#f98a26" stroke-width="1.25" />
<line x1="411.16" y1="432.52" x2="415.16" y2="432.52" stroke="#f98a26" stroke-width="1.25" />
<line x1="425.32" y1="412.42" x2="425.32" y2="403.63" stroke="#f98a26" stroke-width="1.25" />
<line x1="423.32" y1="403.63" x2="427.32" y2="403.63" stroke="#f98a26" stroke-width="1.25" />
<line x1="437.48" y1="397.85" x2="437.48" y2="385.54" stroke="#f98a26" stroke-width="1.25" />
<line x1="435.48" y1="385.54" x2="439.48" y2="385.54" stroke="#f98a26" stroke-width="1.25" />
<line x1="449.64" y1="391.06" x2="449.64" y2="381.27" stroke="#f98a26" stroke-width="1.25" />
<line x1="447.64" y1="381.27" x2="451.64" y2="381.27" stroke="#f98a26" stroke-width="1.25" />
<line x1="461.80" y1="394.08" x2="461.80" y2="382.02" stroke="#f98a26" stroke-width="1.25" />
<line x1="459.80" y1="382.02" x2="463.80" y2="382.02" stroke="#f98a26" stroke-width="1.25" />
<line x1="473.96" y1="390.81" x2="473.96" y2="377.75" stroke="#f98a26" stroke-width="1.25" />
<line x1="471.96" y1="377.75" x2="475.96" y2="377.75" stroke="#f98a26" stroke-width="1.25" />
<line x1="486.12" y1="394.83" x2="486.12" y2="381.27" stroke="#f98a26" stroke-width="1.25" />
<line x1="484.12" y1="381.27" x2="488.12" y2="381.27" stroke="#f98a26" stroke-width="1.25" />
<line x1="498.28" y1="408.40" x2="498.28" y2="406.89" stroke="#f98a26" stroke-width="1.25" />
<line x1="496.28" y1="406.89" x2="500.28" y2="406.89" stroke="#f98a26" stroke-width="1.25" />
<line x1="510.44" y1="412.42" x2="510.44" y2="408.15" stroke="#f98a26" stroke-width="1.25" />
<line x1="508.44" y1="408.15" x2="512.44" y2="408.15" stroke="#f98a26" stroke-width="1.25" />
<line x1="522.60" y1="419.71" x2="522.60" y2="398.10" stroke="#f98a26" stroke-width="1.25" />
<line x1="520.60" y1="398.10" x2="524.60" y2="398.10" stroke="#f98a26" stroke-width="1.25" />
<line x1="534.76" y1="425.74" x2="534.76" y2="381.01" stroke="#f98a26" stroke-width="1.25" />
<line x1="532.76" y1="381.01" x2="536.76" y2="381.01" stroke="#f98a26" stroke-width="1.25" />
<line x1="546.92" y1="433.78" x2="546.92" y2="390.31" stroke="#f98a26" stroke-width="1.25" />
<line x1="544.92" y1="390.31" x2="548.92" y2="390.31" stroke="#f98a26" stroke-width="1.25" />
<line x1="559.08" y1="433.78" x2="559.08" y2="390.31" stroke="#f98a26" stroke-width="1.25" />
<line x1="557.08" y1="390.31" x2="561.08" y2="390.31" stroke="#f98a26" stroke-width="1.25" />
<line x1="571.24" y1="450.36" x2="571.24" y2="398.85" stroke="#f98a26" stroke-width="1.25" />
<line x1="569.24" y1="398.85" x2="573.24" y2="398.85" stroke="#f98a26" stroke-width="1.25" />
<line x1="583.40" y1="450.36" x2="583.40" y2="399.61" stroke="#f98a26" stroke-width="1.25" />
<line x1="581.40" y1="399.61" x2="585.40" y2="399.61" stroke="#f98a26" stroke-width="1.25" />
<line x1="595.56" y1="450.36" x2="595.56" y2="399.61" stroke="#f98a26" stroke-width="1.25" />
<line x1="593.56" y1="399.61" x2="597.56" y2="399.61" stroke="#f98a26" stroke-width="1.25" />
<line x1="607.72" y1="450.36" x2="607.72" y2="399.61" stroke="#f98a26" stroke-width="1.25" />
<line x1="605.72" y1="399.61" x2="609.72" y2="399.61" stroke="#f98a26" stroke-width="1.25" />
<line x1="619.88" y1="450.36" x2="619.88" y2="399.61" stroke="#f98a26" stroke-width="1.25" />
<line x1="617.88" y1="399.61" x2="621.88" y2="399.61" stroke="#f98a26" stroke-width="1.25" />
<line x1="632.04" y1="450.36" x2="632.04" y2="399.61" stroke="#f98a26" stroke-width="1.25" />
<line x1="630.04" y1="399.61" x2="634.04" y2="399.61" stroke="#f98a26" stroke-width="1.25" />
<path d="M413.16,458.40 L425.32,412.42 L437.48,397.85 L449.64,391.06 L461.80,394.08 L473.96,390.81 L486.12,394.83 L498.28,408.40 L510.44,412.42 L522.60,419.71 L534.76,425.74 L546.92,433.78 L559.08,433.78 L571.24,450.36 L583.40,450.36 L595.56,450.36 L607.72,450.36 L619.88,450.36 L632.04,450.36" fill="none" stroke="#f98a26" stroke-width="1.15" stroke-linejoin="round"/>
<path d="M413.16,456.20 L415.26,459.90 L411.06,459.90 Z" fill="#f98a26"/>
<path d="M425.32,410.22 L427.42,413.92 L423.22,413.92 Z" fill="#f98a26"/>
<path d="M437.48,395.65 L439.58,399.35 L435.38,399.35 Z" fill="#f98a26"/>
<path d="M449.64,388.87 L451.74,392.56 L447.54,392.56 Z" fill="#f98a26"/>
<path d="M461.80,391.88 L463.90,395.58 L459.70,395.58 Z" fill="#f98a26"/>
<path d="M473.96,388.61 L476.06,392.31 L471.86,392.31 Z" fill="#f98a26"/>
<path d="M486.12,392.63 L488.22,396.33 L484.02,396.33 Z" fill="#f98a26"/>
<path d="M498.28,406.20 L500.38,409.90 L496.18,409.90 Z" fill="#f98a26"/>
<path d="M510.44,410.22 L512.54,413.92 L508.34,413.92 Z" fill="#f98a26"/>
<path d="M522.60,417.51 L524.70,421.21 L520.50,421.21 Z" fill="#f98a26"/>
<path d="M534.76,423.54 L536.86,427.24 L532.66,427.24 Z" fill="#f98a26"/>
<path d="M546.92,431.58 L549.02,435.28 L544.82,435.28 Z" fill="#f98a26"/>
<path d="M559.08,431.58 L561.18,435.28 L556.98,435.28 Z" fill="#f98a26"/>
<path d="M571.24,448.16 L573.34,451.86 L569.14,451.86 Z" fill="#f98a26"/>
<path d="M583.40,448.16 L585.50,451.86 L581.30,451.86 Z" fill="#f98a26"/>
<path d="M595.56,448.16 L597.66,451.86 L593.46,451.86 Z" fill="#f98a26"/>
<path d="M607.72,448.16 L609.82,451.86 L605.62,451.86 Z" fill="#f98a26"/>
<path d="M619.88,448.16 L621.98,451.86 L617.78,451.86 Z" fill="#f98a26"/>
<path d="M632.04,448.16 L634.14,451.86 L629.94,451.86 Z" fill="#f98a26"/>
<line x1="413.16" y1="477.75" x2="413.16" y2="452.37" stroke="#0f7f7e" stroke-width="1.25" />
<line x1="411.16" y1="452.37" x2="415.16" y2="452.37" stroke="#0f7f7e" stroke-width="1.25" />
<line x1="425.32" y1="455.64" x2="425.32" y2="432.52" stroke="#0f7f7e" stroke-width="1.25" />
<line x1="423.32" y1="432.52" x2="427.32" y2="432.52" stroke="#0f7f7e" stroke-width="1.25" />
<line x1="437.48" y1="436.04" x2="437.48" y2="416.69" stroke="#0f7f7e" stroke-width="1.25" />
<line x1="435.48" y1="416.69" x2="439.48" y2="416.69" stroke="#0f7f7e" stroke-width="1.25" />
<line x1="449.64" y1="419.46" x2="449.64" y2="398.10" stroke="#0f7f7e" stroke-width="1.25" />
<line x1="447.64" y1="398.10" x2="451.64" y2="398.10" stroke="#0f7f7e" stroke-width="1.25" />
<line x1="461.80" y1="405.64" x2="461.80" y2="386.29" stroke="#0f7f7e" stroke-width="1.25" />
<line x1="459.80" y1="386.29" x2="463.80" y2="386.29" stroke="#0f7f7e" stroke-width="1.25" />
<line x1="473.96" y1="397.35" x2="473.96" y2="379.51" stroke="#0f7f7e" stroke-width="1.25" />
<line x1="471.96" y1="379.51" x2="475.96" y2="379.51" stroke="#0f7f7e" stroke-width="1.25" />
<line x1="486.12" y1="405.64" x2="486.12" y2="382.27" stroke="#0f7f7e" stroke-width="1.25" />
<line x1="484.12" y1="382.27" x2="488.12" y2="382.27" stroke="#0f7f7e" stroke-width="1.25" />
<line x1="498.28" y1="405.64" x2="498.28" y2="385.03" stroke="#0f7f7e" stroke-width="1.25" />
<line x1="496.28" y1="385.03" x2="500.28" y2="385.03" stroke="#0f7f7e" stroke-width="1.25" />
<line x1="510.44" y1="405.64" x2="510.44" y2="385.03" stroke="#0f7f7e" stroke-width="1.25" />
<line x1="508.44" y1="385.03" x2="512.44" y2="385.03" stroke="#0f7f7e" stroke-width="1.25" />
<line x1="522.60" y1="408.40" x2="522.60" y2="386.04" stroke="#0f7f7e" stroke-width="1.25" />
<line x1="520.60" y1="386.04" x2="524.60" y2="386.04" stroke="#0f7f7e" stroke-width="1.25" />
<line x1="534.76" y1="433.53" x2="534.76" y2="394.58" stroke="#0f7f7e" stroke-width="1.25" />
<line x1="532.76" y1="394.58" x2="536.76" y2="394.58" stroke="#0f7f7e" stroke-width="1.25" />
<line x1="546.92" y1="438.55" x2="546.92" y2="397.60" stroke="#0f7f7e" stroke-width="1.25" />
<line x1="544.92" y1="397.60" x2="548.92" y2="397.60" stroke="#0f7f7e" stroke-width="1.25" />
<line x1="559.08" y1="438.55" x2="559.08" y2="397.60" stroke="#0f7f7e" stroke-width="1.25" />
<line x1="557.08" y1="397.60" x2="561.08" y2="397.60" stroke="#0f7f7e" stroke-width="1.25" />
<line x1="571.24" y1="438.55" x2="571.24" y2="397.60" stroke="#0f7f7e" stroke-width="1.25" />
<line x1="569.24" y1="397.60" x2="573.24" y2="397.60" stroke="#0f7f7e" stroke-width="1.25" />
<line x1="583.40" y1="443.58" x2="583.40" y2="403.38" stroke="#0f7f7e" stroke-width="1.25" />
<line x1="581.40" y1="403.38" x2="585.40" y2="403.38" stroke="#0f7f7e" stroke-width="1.25" />
<line x1="595.56" y1="443.58" x2="595.56" y2="403.38" stroke="#0f7f7e" stroke-width="1.25" />
<line x1="593.56" y1="403.38" x2="597.56" y2="403.38" stroke="#0f7f7e" stroke-width="1.25" />
<line x1="607.72" y1="448.60" x2="607.72" y2="406.64" stroke="#0f7f7e" stroke-width="1.25" />
<line x1="605.72" y1="406.64" x2="609.72" y2="406.64" stroke="#0f7f7e" stroke-width="1.25" />
<line x1="619.88" y1="448.60" x2="619.88" y2="406.64" stroke="#0f7f7e" stroke-width="1.25" />
<line x1="617.88" y1="406.64" x2="621.88" y2="406.64" stroke="#0f7f7e" stroke-width="1.25" />
<line x1="632.04" y1="448.60" x2="632.04" y2="406.64" stroke="#0f7f7e" stroke-width="1.25" />
<line x1="630.04" y1="406.64" x2="634.04" y2="406.64" stroke="#0f7f7e" stroke-width="1.25" />
<path d="M413.16,477.75 L425.32,455.64 L437.48,436.04 L449.64,419.46 L461.80,405.64 L473.96,397.35 L486.12,405.64 L498.28,405.64 L510.44,405.64 L522.60,408.40 L534.76,433.53 L546.92,438.55 L559.08,438.55 L571.24,438.55 L583.40,443.58 L595.56,443.58 L607.72,448.60 L619.88,448.60 L632.04,448.60" fill="none" stroke="#0f7f7e" stroke-width="1.15" stroke-linejoin="round"/>
<circle cx="413.16" cy="477.75" r="1.9" fill="#0f7f7e"/>
<circle cx="425.32" cy="455.64" r="1.9" fill="#0f7f7e"/>
<circle cx="437.48" cy="436.04" r="1.9" fill="#0f7f7e"/>
<circle cx="449.64" cy="419.46" r="1.9" fill="#0f7f7e"/>
<circle cx="461.80" cy="405.64" r="1.9" fill="#0f7f7e"/>
<circle cx="473.96" cy="397.35" r="1.9" fill="#0f7f7e"/>
<circle cx="486.12" cy="405.64" r="1.9" fill="#0f7f7e"/>
<circle cx="498.28" cy="405.64" r="1.9" fill="#0f7f7e"/>
<circle cx="510.44" cy="405.64" r="1.9" fill="#0f7f7e"/>
<circle cx="522.60" cy="408.40" r="1.9" fill="#0f7f7e"/>
<circle cx="534.76" cy="433.53" r="1.9" fill="#0f7f7e"/>
<circle cx="546.92" cy="438.55" r="1.9" fill="#0f7f7e"/>
<circle cx="559.08" cy="438.55" r="1.9" fill="#0f7f7e"/>
<circle cx="571.24" cy="438.55" r="1.9" fill="#0f7f7e"/>
<circle cx="583.40" cy="443.58" r="1.9" fill="#0f7f7e"/>
<circle cx="595.56" cy="443.58" r="1.9" fill="#0f7f7e"/>
<circle cx="607.72" cy="448.60" r="1.9" fill="#0f7f7e"/>
<circle cx="619.88" cy="448.60" r="1.9" fill="#0f7f7e"/>
<circle cx="632.04" cy="448.60" r="1.9" fill="#0f7f7e"/>
</svg></body></html>
